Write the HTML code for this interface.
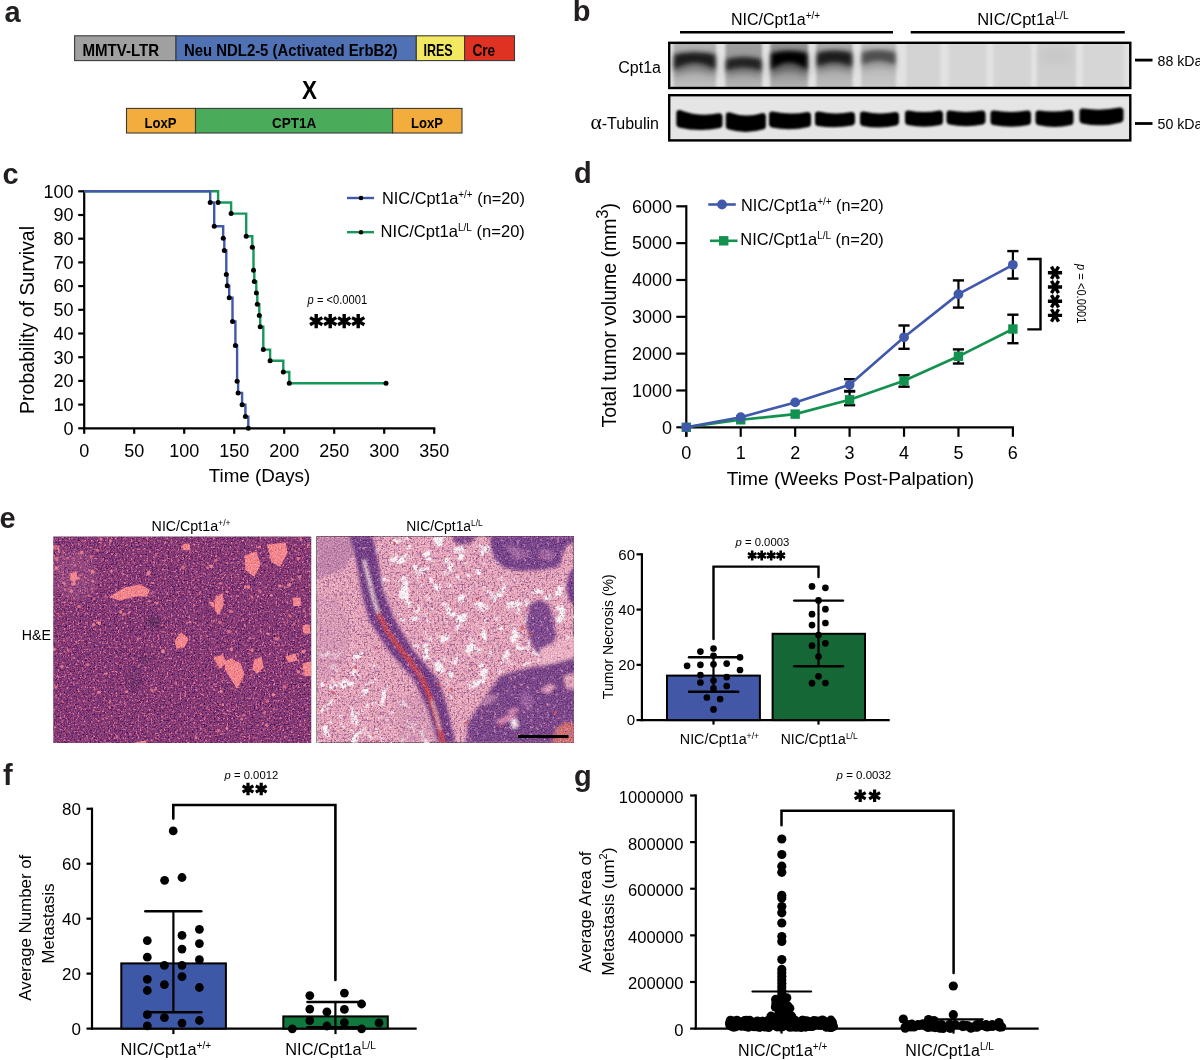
<!DOCTYPE html>
<html><head><meta charset="utf-8"><title>Figure</title>
<style>html,body{margin:0;padding:0;background:#fff;width:1200px;height:1060px;overflow:hidden}
svg{display:block;font-family:"Liberation Sans", sans-serif;will-change:transform}</style></head>
<body><svg width="1200" height="1060" viewBox="0 0 1200 1060">
<defs><filter id="blurL" x="-20%" y="-20%" width="140%" height="140%"><feGaussianBlur stdDeviation="1.6"/></filter>
<filter id="blurM" x="-20%" y="-50%" width="140%" height="200%"><feGaussianBlur stdDeviation="2"/></filter>
<filter id="blurS" x="-20%" y="-50%" width="140%" height="200%"><feGaussianBlur stdDeviation="3.5"/></filter>
<filter id="blurB" x="-20%" y="-50%" width="140%" height="200%"><feGaussianBlur stdDeviation="1.2"/></filter>
<clipPath id="cpTop"><rect x="669.2" y="43" width="461.1" height="44.5"/></clipPath>
<clipPath id="cpBot"><rect x="669.2" y="95.5" width="461.1" height="44.6"/></clipPath>
<linearGradient id="lg0" x1="0" y1="43" x2="0" y2="88" gradientUnits="userSpaceOnUse"><stop offset="0" stop-color="#b2b2b2"/><stop offset="0.21" stop-color="#aaaaaa"/><stop offset="0.63" stop-color="#acacac"/><stop offset="1" stop-color="#c0c0c0"/></linearGradient>
<linearGradient id="lg1" x1="0" y1="43" x2="0" y2="88" gradientUnits="userSpaceOnUse"><stop offset="0" stop-color="#a0a0a0"/><stop offset="0.31" stop-color="#989898"/><stop offset="0.66" stop-color="#a2a2a2"/><stop offset="1" stop-color="#b6b6b6"/></linearGradient>
<linearGradient id="lg2" x1="0" y1="43" x2="0" y2="88" gradientUnits="userSpaceOnUse"><stop offset="0" stop-color="#949494"/><stop offset="0.17" stop-color="#8c8c8c"/><stop offset="0.64" stop-color="#969696"/><stop offset="1" stop-color="#b2b2b2"/></linearGradient>
<linearGradient id="lg3" x1="0" y1="43" x2="0" y2="88" gradientUnits="userSpaceOnUse"><stop offset="0" stop-color="#aaaaaa"/><stop offset="0.17" stop-color="#a2a2a2"/><stop offset="0.57" stop-color="#aaaaaa"/><stop offset="1" stop-color="#bebebe"/></linearGradient>
<linearGradient id="lg4" x1="0" y1="43" x2="0" y2="88" gradientUnits="userSpaceOnUse"><stop offset="0" stop-color="#bcbcbc"/><stop offset="0.16" stop-color="#b4b4b4"/><stop offset="0.52" stop-color="#bababa"/><stop offset="1" stop-color="#c8c8c8"/></linearGradient>
<filter id="grain" x="0" y="0" width="1" height="1" color-interpolation-filters="sRGB"><feTurbulence type="fractalNoise" baseFrequency="0.7" numOctaves="2" seed="7" result="n"/><feColorMatrix in="n" type="matrix" values="0.33 0.33 0.33 0 0  0.33 0.33 0.33 0 0  0.33 0.33 0.33 0 0  0 0 0 0 1" result="g"/><feComposite in="SourceGraphic" in2="g" operator="arithmetic" k1="0" k2="1" k3="0.8" k4="-0.4"/></filter>
<filter id="spW" x="0" y="0" width="1" height="1" color-interpolation-filters="sRGB"><feTurbulence type="fractalNoise" baseFrequency="0.09" numOctaves="5" seed="4" result="n"/><feColorMatrix in="n" type="matrix" values="0 0 0 0 0.98  0 0 0 0 0.95  0 0 0 0 0.96  6 0 0 0 -3.3" result="m"/><feComposite in="m" in2="SourceAlpha" operator="in"/></filter>
<filter id="spW2" x="0" y="0" width="1" height="1" color-interpolation-filters="sRGB"><feTurbulence type="fractalNoise" baseFrequency="0.1" numOctaves="5" seed="9" result="n"/><feColorMatrix in="n" type="matrix" values="0 0 0 0 0.99  0 0 0 0 0.96  0 0 0 0 0.97  6 0 0 0 -3.4" result="m"/><feComposite in="m" in2="SourceAlpha" operator="in"/></filter>
<filter id="spP" x="0" y="0" width="1" height="1" color-interpolation-filters="sRGB"><feTurbulence type="fractalNoise" baseFrequency="0.5" numOctaves="2" seed="13" result="n"/><feColorMatrix in="n" type="matrix" values="0 0 0 0 0.35  0 0 0 0 0.16  0 0 0 0 0.42  7 0 0 0 -3.8" result="m"/><feComposite in="m" in2="SourceAlpha" operator="in"/></filter>
<filter id="spP2" x="0" y="0" width="1" height="1" color-interpolation-filters="sRGB"><feTurbulence type="fractalNoise" baseFrequency="0.45" numOctaves="2" seed="21" result="n"/><feColorMatrix in="n" type="matrix" values="0 0 0 0 0.35  0 0 0 0 0.18  0 0 0 0 0.48  7 0 0 0 -3.7" result="m"/><feComposite in="m" in2="SourceAlpha" operator="in"/></filter>
<filter id="spM" x="0" y="0" width="1" height="1" color-interpolation-filters="sRGB"><feTurbulence type="fractalNoise" baseFrequency="0.3" numOctaves="2" seed="31" result="n"/><feColorMatrix in="n" type="matrix" values="0 0 0 0 0.72  0 0 0 0 0.48  0 0 0 0 0.66  7 0 0 0 -4.2" result="m"/><feComposite in="m" in2="SourceAlpha" operator="in"/></filter>
<filter id="spK" x="0" y="0" width="1" height="1" color-interpolation-filters="sRGB"><feTurbulence type="fractalNoise" baseFrequency="0.45" numOctaves="2" seed="17" result="n"/><feColorMatrix in="n" type="matrix" values="0 0 0 0 0.83  0 0 0 0 0.43  0 0 0 0 0.55  8 0 0 0 -4.75" result="m"/><feComposite in="m" in2="SourceAlpha" operator="in"/></filter>
<filter id="soft" x="-20%" y="-20%" width="140%" height="140%"><feGaussianBlur stdDeviation="1.5"/></filter>
<filter id="hblur" x="0" y="0" width="1" height="1"><feGaussianBlur stdDeviation="0.55"/></filter>
<filter id="soft3" x="-30%" y="-30%" width="160%" height="160%"><feGaussianBlur stdDeviation="3"/></filter></defs>
<rect width="1200" height="1060" fill="#fff"/>
<text x="4.5" y="21.5" font-size="29" font-weight="bold" fill="#231f20" >a</text>
<text x="572.8" y="21.3" font-size="29" font-weight="bold" fill="#231f20" >b</text>
<text x="2.5" y="183.6" font-size="29" font-weight="bold" fill="#231f20" >c</text>
<text x="574" y="183.3" font-size="29" font-weight="bold" fill="#231f20" >d</text>
<text x="-0.5" y="528" font-size="29" font-weight="bold" fill="#231f20" >e</text>
<text x="3" y="784.8" font-size="29" font-weight="bold" fill="#231f20" >f</text>
<text x="574" y="785.5" font-size="29" font-weight="bold" fill="#231f20" >g</text>
<rect x="74.6" y="35.8" width="101.4" height="24.8" fill="#a0a0a0" stroke="#3a3a3a" stroke-width="1.1" />
<rect x="176" y="35.8" width="240.3" height="24.8" fill="#5071b4" stroke="#3a3a3a" stroke-width="1.1" />
<rect x="416.3" y="35.8" width="48.3" height="24.8" fill="#f2e862" stroke="#3a3a3a" stroke-width="1.1" />
<rect x="464.6" y="35.8" width="49.9" height="24.8" fill="#e03222" stroke="#3a3a3a" stroke-width="1.1" />
<text x="82.5" y="55.9" font-size="16.2" font-weight="bold" textLength="76.7" lengthAdjust="spacingAndGlyphs" >MMTV-LTR</text>
<text x="184" y="55.9" font-size="16.2" font-weight="bold" textLength="213.5" lengthAdjust="spacingAndGlyphs" >Neu NDL2-5 (Activated ErbB2)</text>
<text x="423.4" y="55.9" font-size="16.2" font-weight="bold" textLength="29.3" lengthAdjust="spacingAndGlyphs" >IRES</text>
<text x="472.4" y="55.9" font-size="16.2" font-weight="bold" textLength="22.8" lengthAdjust="spacingAndGlyphs" >Cre</text>
<text x="309.6" y="99" font-size="25" font-weight="bold" text-anchor="middle" textLength="15" lengthAdjust="spacingAndGlyphs" >X</text>
<rect x="126.5" y="108.4" width="69" height="24.6" fill="#f2ad3c" stroke="#3a3a3a" stroke-width="1.1" />
<rect x="195.5" y="108.4" width="197.1" height="24.6" fill="#4aab5a" stroke="#3a3a3a" stroke-width="1.1" />
<rect x="392.6" y="108.4" width="69.4" height="24.6" fill="#f2ad3c" stroke="#3a3a3a" stroke-width="1.1" />
<text x="144.6" y="127.9" font-size="15" font-weight="bold" textLength="32" lengthAdjust="spacingAndGlyphs" >LoxP</text>
<text x="272" y="127.9" font-size="15" font-weight="bold" textLength="44.4" lengthAdjust="spacingAndGlyphs" >CPT1A</text>
<text x="411" y="127.9" font-size="15" font-weight="bold" textLength="32" lengthAdjust="spacingAndGlyphs" >LoxP</text>
<text x="731" y="24.5" font-size="16">NIC/Cpt1a<tspan font-size="10" dy="-5.5">+/+</tspan></text>
<text x="977.2" y="24.5" font-size="16" textLength="91.5" lengthAdjust="spacingAndGlyphs">NIC/Cpt1a<tspan font-size="10" dy="-5.5">L/L</tspan></text>
<line x1="680" y1="32.2" x2="893" y2="32.2" stroke="#000" stroke-width="2.6" stroke-linecap="butt"/>
<line x1="910.7" y1="32.2" x2="1124.8" y2="32.2" stroke="#000" stroke-width="2.6" stroke-linecap="butt"/>
<text x="661" y="73.3" font-size="16" text-anchor="end" >Cpt1a</text>
<text x="659" y="129.3" font-size="16" text-anchor="end"><tspan font-family="Liberation Serif" font-size="21.5">&#945;</tspan>-Tubulin</text>
<line x1="1135" y1="60.1" x2="1152.5" y2="60.1" stroke="#000" stroke-width="2.8" stroke-linecap="butt"/>
<line x1="1135" y1="123.5" x2="1152.5" y2="123.5" stroke="#000" stroke-width="2.8" stroke-linecap="butt"/>
<text x="1157.5" y="65.7" font-size="14.2" >88 kDa</text>
<text x="1157.5" y="129.4" font-size="14.2" >50 kDa</text>
<g clip-path="url(#cpTop)">
<rect x="669.2" y="42" width="461.1" height="47" fill="#e2e2e2" />
<g filter="url(#blurL)">
<rect x="673.5" y="40" width="42.5" height="50" fill="url(#lg0)"/>
</g>
<path d="M674.5 56.3Q694.75 52.3 715 56.3L715 75.5Q694.75 64.5 674.5 75.5Z" fill="#424242" opacity="0.55" filter="url(#blurS)"/>
<path d="M674.5 54.8Q694.75 50.3 715 54.8L715 69.5Q694.75 56.2 674.5 69.5Z" fill="#1a1a1a" filter="url(#blurM)"/>
<g filter="url(#blurL)">
<rect x="725.5" y="40" width="36.5" height="50" fill="url(#lg1)"/>
</g>
<path d="M726.5 61Q743.75 57 761 61L761 76.5Q743.75 69 726.5 76.5Z" fill="#4c4c4c" opacity="0.55" filter="url(#blurS)"/>
<path d="M726.5 59.5Q743.75 55 761 59.5L761 70.5Q743.75 63.85 726.5 70.5Z" fill="#242424" filter="url(#blurM)"/>
<g filter="url(#blurL)">
<rect x="770.3" y="40" width="37.7" height="50" fill="url(#lg2)"/>
</g>
<path d="M771.3 54.8Q789.15 50.8 807 54.8L807 76Q789.15 64 771.3 76Z" fill="#2a2a2a" opacity="0.55" filter="url(#blurS)"/>
<path d="M771.3 53.3Q789.15 48.8 807 53.3L807 70Q789.15 54.8 771.3 70Z" fill="#020202" filter="url(#blurM)"/>
<g filter="url(#blurL)">
<rect x="816.3" y="40" width="36.2" height="50" fill="url(#lg3)"/>
</g>
<path d="M817.3 54.5Q834.4 50.5 851.5 54.5L851.5 72.5Q834.4 64 817.3 72.5Z" fill="#444444" opacity="0.55" filter="url(#blurS)"/>
<path d="M817.3 53Q834.4 48.5 851.5 53L851.5 66.5Q834.4 57.95 817.3 66.5Z" fill="#1c1c1c" filter="url(#blurM)"/>
<g filter="url(#blurL)">
<rect x="861.3" y="40" width="34.7" height="50" fill="url(#lg4)"/>
</g>
<path d="M862.3 54Q878.65 50 895 54L895 70.5Q878.65 62.5 862.3 70.5Z" fill="#787878" opacity="0.55" filter="url(#blurS)"/>
<path d="M862.3 52.5Q878.65 48 895 52.5L895 64.5Q878.65 56.9 862.3 64.5Z" fill="#505050" filter="url(#blurM)"/>
<rect x="906" y="40" width="34.5" height="50" fill="#d3d3d3" filter="url(#blurL)"/>
<rect x="948.5" y="40" width="38" height="50" fill="#d5d5d5" filter="url(#blurL)"/>
<rect x="993.5" y="40" width="37.5" height="50" fill="#d4d4d4" filter="url(#blurL)"/>
<rect x="1037" y="40" width="39" height="50" fill="#cfcfcf" filter="url(#blurL)"/>
<rect x="1083" y="40" width="41" height="50" fill="#d6d6d6" filter="url(#blurL)"/>
<ellipse cx="1056" cy="56" rx="16" ry="9" fill="#c8c8c8" filter="url(#blurS)"/>
</g>
<rect x="669.2" y="42.8" width="461.1" height="45.2" fill="none" stroke="#000" stroke-width="2.4" />
<g clip-path="url(#cpBot)">
<rect x="669.2" y="95" width="461.1" height="46" fill="#e5e5e5" />
<path d="M679.5 113.2Q699.4 120.75 719.3 116.5L719.3 124.8Q699.4 129.15 679.5 124.3Z" fill="#050505" stroke="#050505" stroke-width="6.4" stroke-linejoin="round" filter="url(#blurB)"/>
<path d="M729 115.5Q745.85 121.75 762.7 116.2L762.7 126.3Q745.85 131.4 729 126.3Z" fill="#050505" stroke="#050505" stroke-width="6.4" stroke-linejoin="round" filter="url(#blurB)"/>
<path d="M772.2 114.7Q790 118.65 807.8 115.2L807.8 123.8Q790 128.05 772.2 124.3Z" fill="#050505" stroke="#050505" stroke-width="6.4" stroke-linejoin="round" filter="url(#blurB)"/>
<path d="M818.2 114.7Q835 118.25 851.8 115.2L851.8 122.3Q835 125.55 818.2 122.8Z" fill="#050505" stroke="#050505" stroke-width="6.4" stroke-linejoin="round" filter="url(#blurB)"/>
<path d="M863.2 114.7Q879.5 118.25 895.8 115.2L895.8 122.3Q879.5 126.15 863.2 122.8Z" fill="#050505" stroke="#050505" stroke-width="6.4" stroke-linejoin="round" filter="url(#blurB)"/>
<path d="M908.2 113.7Q924 116.9 939.8 113.7L939.8 121.8Q924 125.3 908.2 121.8Z" fill="#050505" stroke="#050505" stroke-width="6.4" stroke-linejoin="round" filter="url(#blurB)"/>
<path d="M949.7 113.7Q966 116.5 982.3 113.7L982.3 121.3Q966 124.8 949.7 121.3Z" fill="#050505" stroke="#050505" stroke-width="6.4" stroke-linejoin="round" filter="url(#blurB)"/>
<path d="M993.7 113.7Q1010.75 116.5 1027.8 113.7L1027.8 121.8Q1010.75 125.3 993.7 121.8Z" fill="#050505" stroke="#050505" stroke-width="6.4" stroke-linejoin="round" filter="url(#blurB)"/>
<path d="M1038.7 113.7Q1054.5 116.15 1070.3 113.2L1070.3 121.8Q1054.5 125.9 1038.7 121.8Z" fill="#050505" stroke="#050505" stroke-width="6.4" stroke-linejoin="round" filter="url(#blurB)"/>
<path d="M1082.7 111.7Q1101.5 114.4 1120.3 110.7L1120.3 119.3Q1101.5 124.3 1082.7 120.3Z" fill="#050505" stroke="#050505" stroke-width="6.4" stroke-linejoin="round" filter="url(#blurB)"/>
</g>
<rect x="669.2" y="95.2" width="461.1" height="45.2" fill="none" stroke="#000" stroke-width="2.4" />
<line x1="84.2" y1="190.3" x2="84.2" y2="429.3" stroke="#000" stroke-width="2.2" stroke-linecap="butt"/>
<line x1="83.1" y1="428.3" x2="435.3" y2="428.3" stroke="#000" stroke-width="2.2" stroke-linecap="butt"/>
<line x1="78.2" y1="428.3" x2="84.2" y2="428.3" stroke="#000" stroke-width="2.2" stroke-linecap="butt"/>
<text x="73.5" y="434.6" font-size="18" text-anchor="end" >0</text>
<line x1="78.2" y1="404.6" x2="84.2" y2="404.6" stroke="#000" stroke-width="2.2" stroke-linecap="butt"/>
<text x="73.5" y="410.9" font-size="18" text-anchor="end" >10</text>
<line x1="78.2" y1="380.9" x2="84.2" y2="380.9" stroke="#000" stroke-width="2.2" stroke-linecap="butt"/>
<text x="73.5" y="387.2" font-size="18" text-anchor="end" >20</text>
<line x1="78.2" y1="357.2" x2="84.2" y2="357.2" stroke="#000" stroke-width="2.2" stroke-linecap="butt"/>
<text x="73.5" y="363.5" font-size="18" text-anchor="end" >30</text>
<line x1="78.2" y1="333.5" x2="84.2" y2="333.5" stroke="#000" stroke-width="2.2" stroke-linecap="butt"/>
<text x="73.5" y="339.8" font-size="18" text-anchor="end" >40</text>
<line x1="78.2" y1="309.8" x2="84.2" y2="309.8" stroke="#000" stroke-width="2.2" stroke-linecap="butt"/>
<text x="73.5" y="316.1" font-size="18" text-anchor="end" >50</text>
<line x1="78.2" y1="286.1" x2="84.2" y2="286.1" stroke="#000" stroke-width="2.2" stroke-linecap="butt"/>
<text x="73.5" y="292.4" font-size="18" text-anchor="end" >60</text>
<line x1="78.2" y1="262.4" x2="84.2" y2="262.4" stroke="#000" stroke-width="2.2" stroke-linecap="butt"/>
<text x="73.5" y="268.7" font-size="18" text-anchor="end" >70</text>
<line x1="78.2" y1="238.7" x2="84.2" y2="238.7" stroke="#000" stroke-width="2.2" stroke-linecap="butt"/>
<text x="73.5" y="245" font-size="18" text-anchor="end" >80</text>
<line x1="78.2" y1="215" x2="84.2" y2="215" stroke="#000" stroke-width="2.2" stroke-linecap="butt"/>
<text x="73.5" y="221.3" font-size="18" text-anchor="end" >90</text>
<line x1="78.2" y1="191.3" x2="84.2" y2="191.3" stroke="#000" stroke-width="2.2" stroke-linecap="butt"/>
<text x="73.5" y="197.6" font-size="18" text-anchor="end" >100</text>
<line x1="84.2" y1="428.3" x2="84.2" y2="433.8" stroke="#000" stroke-width="2.2" stroke-linecap="butt"/>
<text x="84.2" y="456.8" font-size="18" text-anchor="middle" >0</text>
<line x1="134.2" y1="428.3" x2="134.2" y2="433.8" stroke="#000" stroke-width="2.2" stroke-linecap="butt"/>
<text x="134.2" y="456.8" font-size="18" text-anchor="middle" >50</text>
<line x1="184.2" y1="428.3" x2="184.2" y2="433.8" stroke="#000" stroke-width="2.2" stroke-linecap="butt"/>
<text x="184.2" y="456.8" font-size="18" text-anchor="middle" >100</text>
<line x1="234.2" y1="428.3" x2="234.2" y2="433.8" stroke="#000" stroke-width="2.2" stroke-linecap="butt"/>
<text x="234.2" y="456.8" font-size="18" text-anchor="middle" >150</text>
<line x1="284.2" y1="428.3" x2="284.2" y2="433.8" stroke="#000" stroke-width="2.2" stroke-linecap="butt"/>
<text x="284.2" y="456.8" font-size="18" text-anchor="middle" >200</text>
<line x1="334.2" y1="428.3" x2="334.2" y2="433.8" stroke="#000" stroke-width="2.2" stroke-linecap="butt"/>
<text x="334.2" y="456.8" font-size="18" text-anchor="middle" >250</text>
<line x1="384.2" y1="428.3" x2="384.2" y2="433.8" stroke="#000" stroke-width="2.2" stroke-linecap="butt"/>
<text x="384.2" y="456.8" font-size="18" text-anchor="middle" >300</text>
<line x1="434.2" y1="428.3" x2="434.2" y2="433.8" stroke="#000" stroke-width="2.2" stroke-linecap="butt"/>
<text x="434.2" y="456.8" font-size="18" text-anchor="middle" >350</text>
<text x="259.5" y="482.3" font-size="18" text-anchor="middle" textLength="101.6" lengthAdjust="spacingAndGlyphs" >Time (Days)</text>
<text x="34.3" y="320" font-size="19.4" text-anchor="middle" textLength="188" lengthAdjust="spacingAndGlyphs" transform="rotate(-90 34.3 320)" >Probability of Survival</text>
<path d="M84.2 191.3H218.1V202.5H231.1V213.6H246.2V236.2H252.3V247.3H253.5V270.2H254.3V281.5H256.3V292.9H257.3V304.2H259.3V315.5H260.2V326.8H263.3V349.6H270.1V360.8H283.3V372H289.3V383.3H386" stroke="#17985a" stroke-width="2.4" fill="none"/>
<path d="M84.2 191.3H210.2V202.5H214.2V226.3H223.2V238.2H224.3V250.5H226.3V274.5H227.2V285.8H229.2V297.7H232.5V321.4H235.4V345.6H237.1V381.3H238.1V392.9H242.1V404.8H245.4V416.6H248.3V428.2" stroke="#4159a9" stroke-width="2.4" fill="none"/>
<circle cx="210.2" cy="202.5" r="2.5" fill="#000" />
<circle cx="214.2" cy="226.3" r="2.5" fill="#000" />
<circle cx="223.2" cy="238.2" r="2.5" fill="#000" />
<circle cx="224.3" cy="250.5" r="2.5" fill="#000" />
<circle cx="226.3" cy="274.5" r="2.5" fill="#000" />
<circle cx="227.2" cy="285.8" r="2.5" fill="#000" />
<circle cx="229.2" cy="297.7" r="2.5" fill="#000" />
<circle cx="232.5" cy="321.4" r="2.5" fill="#000" />
<circle cx="235.4" cy="345.6" r="2.5" fill="#000" />
<circle cx="237.1" cy="381.3" r="2.5" fill="#000" />
<circle cx="238.1" cy="392.9" r="2.5" fill="#000" />
<circle cx="242.1" cy="404.8" r="2.5" fill="#000" />
<circle cx="245.4" cy="416.6" r="2.5" fill="#000" />
<circle cx="248.3" cy="428.2" r="2.5" fill="#000" />
<circle cx="218.1" cy="202.5" r="2.5" fill="#000" />
<circle cx="231.1" cy="213.6" r="2.5" fill="#000" />
<circle cx="246.2" cy="236.2" r="2.5" fill="#000" />
<circle cx="252.3" cy="247.3" r="2.5" fill="#000" />
<circle cx="253.5" cy="270.2" r="2.5" fill="#000" />
<circle cx="254.3" cy="281.5" r="2.5" fill="#000" />
<circle cx="256.3" cy="292.9" r="2.5" fill="#000" />
<circle cx="257.3" cy="304.2" r="2.5" fill="#000" />
<circle cx="259.3" cy="315.5" r="2.5" fill="#000" />
<circle cx="260.2" cy="326.8" r="2.5" fill="#000" />
<circle cx="263.3" cy="349.6" r="2.5" fill="#000" />
<circle cx="270.1" cy="360.8" r="2.5" fill="#000" />
<circle cx="283.3" cy="372" r="2.5" fill="#000" />
<circle cx="289.3" cy="383.3" r="2.5" fill="#000" />
<circle cx="386" cy="383.3" r="2.5" fill="#000" />
<line x1="347" y1="198" x2="374" y2="198" stroke="#4159a9" stroke-width="2.4" stroke-linecap="butt"/>
<circle cx="361" cy="198" r="2.3" fill="#000" />
<text x="382" y="203.5" font-size="16.5" textLength="142.9" lengthAdjust="spacingAndGlyphs">NIC/Cpt1a<tspan font-size="10" dy="-5.8">+/+</tspan><tspan dy="5.8"> (n=20)</tspan></text>
<line x1="347" y1="232.2" x2="374" y2="232.2" stroke="#17985a" stroke-width="2.4" stroke-linecap="butt"/>
<circle cx="361" cy="232.2" r="2.3" fill="#000" />
<text x="380.6" y="236.9" font-size="16.5" textLength="144.3" lengthAdjust="spacingAndGlyphs">NIC/Cpt1a<tspan font-size="10" dy="-5.8">L/L</tspan><tspan dy="5.8"> (n=20)</tspan></text>
<text x="307.6" y="304.2" font-size="12" textLength="59.5" lengthAdjust="spacingAndGlyphs"><tspan font-style="italic">p</tspan> = &lt;0.0001</text>
<path d="M316.2 314.1L316.2 328.3M310.05 317.65L322.35 324.75M310.05 324.75L322.35 317.65" stroke="#000" stroke-width="3.4" fill="none"/>
<path d="M330.2 314.1L330.2 328.3M324.05 317.65L336.35 324.75M324.05 324.75L336.35 317.65" stroke="#000" stroke-width="3.4" fill="none"/>
<path d="M344.2 314.1L344.2 328.3M338.05 317.65L350.35 324.75M338.05 324.75L350.35 317.65" stroke="#000" stroke-width="3.4" fill="none"/>
<path d="M358.2 314.1L358.2 328.3M352.05 317.65L364.35 324.75M352.05 324.75L364.35 317.65" stroke="#000" stroke-width="3.4" fill="none"/>
<line x1="686.3" y1="205.22" x2="686.3" y2="436.8" stroke="#000" stroke-width="2.2" stroke-linecap="butt"/>
<line x1="685.2" y1="427.3" x2="1013.98" y2="427.3" stroke="#000" stroke-width="2.2" stroke-linecap="butt"/>
<line x1="676.3" y1="427.3" x2="686.3" y2="427.3" stroke="#000" stroke-width="2.2" stroke-linecap="butt"/>
<text x="672" y="433.5" font-size="18" text-anchor="end" >0</text>
<line x1="676.3" y1="390.47" x2="686.3" y2="390.47" stroke="#000" stroke-width="2.2" stroke-linecap="butt"/>
<text x="672" y="396.67" font-size="18" text-anchor="end" >1000</text>
<line x1="676.3" y1="353.64" x2="686.3" y2="353.64" stroke="#000" stroke-width="2.2" stroke-linecap="butt"/>
<text x="672" y="359.84" font-size="18" text-anchor="end" >2000</text>
<line x1="676.3" y1="316.81" x2="686.3" y2="316.81" stroke="#000" stroke-width="2.2" stroke-linecap="butt"/>
<text x="672" y="323.01" font-size="18" text-anchor="end" >3000</text>
<line x1="676.3" y1="279.98" x2="686.3" y2="279.98" stroke="#000" stroke-width="2.2" stroke-linecap="butt"/>
<text x="672" y="286.18" font-size="18" text-anchor="end" >4000</text>
<line x1="676.3" y1="243.15" x2="686.3" y2="243.15" stroke="#000" stroke-width="2.2" stroke-linecap="butt"/>
<text x="672" y="249.35" font-size="18" text-anchor="end" >5000</text>
<line x1="676.3" y1="206.32" x2="686.3" y2="206.32" stroke="#000" stroke-width="2.2" stroke-linecap="butt"/>
<text x="672" y="212.52" font-size="18" text-anchor="end" >6000</text>
<line x1="686.3" y1="427.3" x2="686.3" y2="436.8" stroke="#000" stroke-width="2.2" stroke-linecap="butt"/>
<text x="686.3" y="458.8" font-size="18" text-anchor="middle" >0</text>
<line x1="740.73" y1="427.3" x2="740.73" y2="436.8" stroke="#000" stroke-width="2.2" stroke-linecap="butt"/>
<text x="740.73" y="458.8" font-size="18" text-anchor="middle" >1</text>
<line x1="795.16" y1="427.3" x2="795.16" y2="436.8" stroke="#000" stroke-width="2.2" stroke-linecap="butt"/>
<text x="795.16" y="458.8" font-size="18" text-anchor="middle" >2</text>
<line x1="849.59" y1="427.3" x2="849.59" y2="436.8" stroke="#000" stroke-width="2.2" stroke-linecap="butt"/>
<text x="849.59" y="458.8" font-size="18" text-anchor="middle" >3</text>
<line x1="904.02" y1="427.3" x2="904.02" y2="436.8" stroke="#000" stroke-width="2.2" stroke-linecap="butt"/>
<text x="904.02" y="458.8" font-size="18" text-anchor="middle" >4</text>
<line x1="958.45" y1="427.3" x2="958.45" y2="436.8" stroke="#000" stroke-width="2.2" stroke-linecap="butt"/>
<text x="958.45" y="458.8" font-size="18" text-anchor="middle" >5</text>
<line x1="1012.88" y1="427.3" x2="1012.88" y2="436.8" stroke="#000" stroke-width="2.2" stroke-linecap="butt"/>
<text x="1012.88" y="458.8" font-size="18" text-anchor="middle" >6</text>
<text x="850.5" y="485.2" font-size="19" text-anchor="middle" textLength="247.3" lengthAdjust="spacingAndGlyphs" >Time (Weeks Post-Palpation)</text>
<text x="615.7" y="427.4" font-size="19.4" transform="rotate(-90 615.7 427.4)" textLength="224.5" lengthAdjust="spacingAndGlyphs">Total tumor volume (mm<tspan font-size="16.5" dy="-7.9">3</tspan><tspan dy="7.9">)</tspan></text>
<line x1="849.59" y1="379.2" x2="849.59" y2="391" stroke="#000" stroke-width="2.2" stroke-linecap="butt"/>
<line x1="843.99" y1="379.2" x2="855.19" y2="379.2" stroke="#000" stroke-width="2.4" stroke-linecap="butt"/>
<line x1="843.99" y1="391" x2="855.19" y2="391" stroke="#000" stroke-width="2.4" stroke-linecap="butt"/>
<line x1="904.02" y1="325.5" x2="904.02" y2="348.8" stroke="#000" stroke-width="2.2" stroke-linecap="butt"/>
<line x1="898.42" y1="325.5" x2="909.62" y2="325.5" stroke="#000" stroke-width="2.4" stroke-linecap="butt"/>
<line x1="898.42" y1="348.8" x2="909.62" y2="348.8" stroke="#000" stroke-width="2.4" stroke-linecap="butt"/>
<line x1="958.45" y1="280.4" x2="958.45" y2="307.6" stroke="#000" stroke-width="2.2" stroke-linecap="butt"/>
<line x1="952.85" y1="280.4" x2="964.05" y2="280.4" stroke="#000" stroke-width="2.4" stroke-linecap="butt"/>
<line x1="952.85" y1="307.6" x2="964.05" y2="307.6" stroke="#000" stroke-width="2.4" stroke-linecap="butt"/>
<line x1="1012.88" y1="251.1" x2="1012.88" y2="278.6" stroke="#000" stroke-width="2.2" stroke-linecap="butt"/>
<line x1="1007.28" y1="251.1" x2="1018.48" y2="251.1" stroke="#000" stroke-width="2.4" stroke-linecap="butt"/>
<line x1="1007.28" y1="278.6" x2="1018.48" y2="278.6" stroke="#000" stroke-width="2.4" stroke-linecap="butt"/>
<line x1="849.59" y1="391.5" x2="849.59" y2="405.2" stroke="#000" stroke-width="2.2" stroke-linecap="butt"/>
<line x1="843.99" y1="391.5" x2="855.19" y2="391.5" stroke="#000" stroke-width="2.4" stroke-linecap="butt"/>
<line x1="843.99" y1="405.2" x2="855.19" y2="405.2" stroke="#000" stroke-width="2.4" stroke-linecap="butt"/>
<line x1="904.02" y1="375.2" x2="904.02" y2="386.7" stroke="#000" stroke-width="2.2" stroke-linecap="butt"/>
<line x1="898.42" y1="375.2" x2="909.62" y2="375.2" stroke="#000" stroke-width="2.4" stroke-linecap="butt"/>
<line x1="898.42" y1="386.7" x2="909.62" y2="386.7" stroke="#000" stroke-width="2.4" stroke-linecap="butt"/>
<line x1="958.45" y1="349.4" x2="958.45" y2="363.5" stroke="#000" stroke-width="2.2" stroke-linecap="butt"/>
<line x1="952.85" y1="349.4" x2="964.05" y2="349.4" stroke="#000" stroke-width="2.4" stroke-linecap="butt"/>
<line x1="952.85" y1="363.5" x2="964.05" y2="363.5" stroke="#000" stroke-width="2.4" stroke-linecap="butt"/>
<line x1="1012.88" y1="314.7" x2="1012.88" y2="343.2" stroke="#000" stroke-width="2.2" stroke-linecap="butt"/>
<line x1="1007.28" y1="314.7" x2="1018.48" y2="314.7" stroke="#000" stroke-width="2.4" stroke-linecap="butt"/>
<line x1="1007.28" y1="343.2" x2="1018.48" y2="343.2" stroke="#000" stroke-width="2.4" stroke-linecap="butt"/>
<polyline points="686.3,427.3 740.73,419.8 795.16,414.1 849.59,399.8 904.02,380.8 958.45,356.3 1012.88,329" stroke="#12914f" stroke-width="2.6" fill="none"/>
<rect x="681.6" y="422.6" width="9.4" height="9.4" fill="#12914f" />
<rect x="736.03" y="415.1" width="9.4" height="9.4" fill="#12914f" />
<rect x="790.46" y="409.4" width="9.4" height="9.4" fill="#12914f" />
<rect x="844.89" y="395.1" width="9.4" height="9.4" fill="#12914f" />
<rect x="899.32" y="376.1" width="9.4" height="9.4" fill="#12914f" />
<rect x="953.75" y="351.6" width="9.4" height="9.4" fill="#12914f" />
<rect x="1008.18" y="324.3" width="9.4" height="9.4" fill="#12914f" />
<polyline points="686.3,427.3 740.73,417.2 795.16,402.4 849.59,384.8 904.02,337.3 958.45,294.2 1012.88,264.8" stroke="#4159aa" stroke-width="2.6" fill="none"/>
<circle cx="686.3" cy="427.3" r="4.9" fill="#4159aa" />
<circle cx="740.73" cy="417.2" r="4.9" fill="#4159aa" />
<circle cx="795.16" cy="402.4" r="4.9" fill="#4159aa" />
<circle cx="849.59" cy="384.8" r="4.9" fill="#4159aa" />
<circle cx="904.02" cy="337.3" r="4.9" fill="#4159aa" />
<circle cx="958.45" cy="294.2" r="4.9" fill="#4159aa" />
<circle cx="1012.88" cy="264.8" r="4.9" fill="#4159aa" />
<line x1="708.3" y1="204.5" x2="735.8" y2="204.5" stroke="#4159aa" stroke-width="2.6" stroke-linecap="butt"/>
<circle cx="722" cy="204.5" r="4.9" fill="#4159aa" />
<text x="741" y="210.8" font-size="16.5" textLength="142.6" lengthAdjust="spacingAndGlyphs">NIC/Cpt1a<tspan font-size="10" dy="-5.8">+/+</tspan><tspan dy="5.8"> (n=20)</tspan></text>
<line x1="710" y1="240.8" x2="737.5" y2="240.8" stroke="#12914f" stroke-width="2.6" stroke-linecap="butt"/>
<rect x="719" y="236.1" width="9.4" height="9.4" fill="#12914f" />
<text x="740.3" y="245.2" font-size="16.5" textLength="143.4" lengthAdjust="spacingAndGlyphs">NIC/Cpt1a<tspan font-size="10" dy="-5.8">L/L</tspan><tspan dy="5.8"> (n=20)</tspan></text>
<path d="M1027.3 259H1040.5V329.4H1027.3" stroke="#000" stroke-width="2.4" fill="none"/>
<path d="M1062.1 272.8L1047.9 272.8M1058.55 266.65L1051.45 278.95M1051.45 266.65L1058.55 278.95" stroke="#000" stroke-width="3.4" fill="none"/>
<path d="M1062.1 287L1047.9 287M1058.55 280.85L1051.45 293.15M1051.45 280.85L1058.55 293.15" stroke="#000" stroke-width="3.4" fill="none"/>
<path d="M1062.1 301.2L1047.9 301.2M1058.55 295.05L1051.45 307.35M1051.45 295.05L1058.55 307.35" stroke="#000" stroke-width="3.4" fill="none"/>
<path d="M1062.1 315.4L1047.9 315.4M1058.55 309.25L1051.45 321.55M1051.45 309.25L1058.55 321.55" stroke="#000" stroke-width="3.4" fill="none"/>
<text x="1077.3" y="264" font-size="12" transform="rotate(90 1077.3 264)" textLength="59.5" lengthAdjust="spacingAndGlyphs"><tspan font-style="italic">p</tspan> = &lt;0.0001</text>
<text x="0" y="0" font-size="1" ></text>
<text x="151.6" y="530.5" font-size="14" textLength="79" lengthAdjust="spacingAndGlyphs">NIC/Cpt1a<tspan font-size="8.5" dy="-4.8">+/+</tspan></text>
<text x="406.3" y="530.5" font-size="14" textLength="76.5" lengthAdjust="spacingAndGlyphs">NIC/Cpt1a<tspan font-size="8.5" dy="-4.8">L/L</tspan></text>
<text x="21.7" y="640.3" font-size="14.2" >H&amp;E</text>
<clipPath id="cpL"><rect x="53.3" y="536.6" width="258" height="206.4"/></clipPath>
<g clip-path="url(#cpL)"><g filter="url(#hblur)"><g filter="url(#grain)">
<rect x="53.3" y="536.6" width="258" height="206.4" fill="#873b76"/>
<rect x="53.3" y="536.6" width="258" height="206.4" fill="#000" filter="url(#spP)"/>
<rect x="53.3" y="536.6" width="258" height="206.4" fill="#000" filter="url(#spK)"/>
<g filter="url(#soft3)">
<ellipse cx="75" cy="575" rx="22" ry="25" fill="#b0608e" opacity="0.35"/>
<ellipse cx="153" cy="622" rx="7" ry="6" fill="#40244f" opacity="0.6"/>
<ellipse cx="134" cy="680" rx="8" ry="12" fill="#50295e" opacity="0.35"/>
<ellipse cx="145" cy="660" rx="9" ry="6" fill="#50295e" opacity="0.3"/>
</g>
<polygon points="268,545 285,543 287,552 280,566 272,562" fill="#f4868e" stroke="#f4868e" stroke-width="1.2" stroke-linejoin="round"/>
<polygon points="245,556 256,552 260,565 254,576 246,570" fill="#f4868e" stroke="#f4868e" stroke-width="1.2" stroke-linejoin="round"/>
<polygon points="110,597 125,588 140,585 149,590 147,596 135,596 120,600" fill="#f4868e" stroke="#f4868e" stroke-width="1.2" stroke-linejoin="round"/>
<polygon points="216,598 222,594 223,604 219,614 215,610" fill="#f4868e" stroke="#f4868e" stroke-width="1.2" stroke-linejoin="round"/>
<polygon points="175,641 181,633 188,639 184,647 177,648" fill="#f4868e" stroke="#f4868e" stroke-width="1.2" stroke-linejoin="round"/>
<polygon points="225,662 231,659 240,664 244,674 237,688 232,680 226,670" fill="#f4868e" stroke="#f4868e" stroke-width="1.2" stroke-linejoin="round"/>
<polygon points="214,658 222,655 226,662 220,668" fill="#f4868e" stroke="#f4868e" stroke-width="1.2" stroke-linejoin="round"/>
<polygon points="255,660 261,657 263,667 257,673 253,668" fill="#f4868e" stroke="#f4868e" stroke-width="1.2" stroke-linejoin="round"/>
<polygon points="286,657 295,654 297,660 289,662" fill="#f4868e" stroke="#f4868e" stroke-width="1.2" stroke-linejoin="round"/>
<polygon points="303,626 309,625 310,633 304,633" fill="#f4868e" stroke="#f4868e" stroke-width="1.2" stroke-linejoin="round"/>
<polygon points="293,598 300,598 300,605 294,606" fill="#f4868e" stroke="#f4868e" stroke-width="1.2" stroke-linejoin="round"/>
<polygon points="183,545 189,544 190,549 184,550" fill="#f4868e" stroke="#f4868e" stroke-width="1.2" stroke-linejoin="round"/>
<polygon points="70,574 76,572 77,579 71,580" fill="#f4868e" stroke="#f4868e" stroke-width="1.2" stroke-linejoin="round"/>
<polygon points="303,664 310,662 311,675 305,676" fill="#f4868e" stroke="#f4868e" stroke-width="1.2" stroke-linejoin="round"/>
<polygon points="136,743 145,741 146,745" fill="#f4868e" stroke="#f4868e" stroke-width="1.2" stroke-linejoin="round"/>
<polygon points="209,602 214,603 213,607" fill="#f4868e" stroke="#f4868e" stroke-width="1.2" stroke-linejoin="round"/>
<polygon points="97,622 100,622 100,625" fill="#f4868e" stroke="#f4868e" stroke-width="1.2" stroke-linejoin="round"/>
</g>
<polygon points="76.39,580.12 74.35,582.16 72.99,581.66 70.86,580.12 72.78,578.58 75.13,578.29" fill="#f08c96" opacity="0.9"/>
<polygon points="91.91,550.45 91.06,550.92 90.5,550.79 89.83,550.31 90.56,549.88 91.34,549.84" fill="#ea8494" opacity="0.9"/>
<polygon points="80.1,552.96 79.24,553.71 77.92,554.24 77.5,553.4 78.21,552.59 79.57,552.4" fill="#dc7084" opacity="0.9"/>
<polygon points="65.42,552.48 65.16,553.35 63.99,553.18 63.58,552.83 64.1,551.75 64.7,551.69" fill="#f08c96" opacity="0.9"/>
<polygon points="83.51,552.57 82.82,554.02 81.35,554.25 79.77,552.77 80.91,550.7 83.25,550.75" fill="#ea8494" opacity="0.9"/>
<polygon points="66.08,583.52 64.19,585.59 63,584.04 62.16,582.8 62.12,581.38 64.11,581.89" fill="#ea8494" opacity="0.9"/>
<polygon points="58.58,560.07 57.37,561.15 56.08,561.34 55.24,560.26 55.74,558.04 57.45,559.21" fill="#e27a8c" opacity="0.9"/>
<polygon points="56.12,548.03 56.15,549.52 53.87,548.59 52.12,547.25 53.86,544.9 55.9,545.15" fill="#dc7084" opacity="0.9"/>
<polygon points="94.64,571.71 93.47,573.03 90.94,574.18 90.74,571.37 91.65,569.78 93.13,570.02" fill="#f08c96" opacity="0.9"/>
<polygon points="81.69,575.45 80.82,575.95 79.81,576.05 79.02,575.15 80.06,574.42 80.75,574.26" fill="#e27a8c" opacity="0.9"/>
<polygon points="95.43,599.26 94.69,600.04 93.14,600.35 92.53,599.45 93.63,598.17 95.54,597.96" fill="#dc7084" opacity="0.9"/>
<polygon points="68.77,596.42 68.28,597.58 67.28,597.26 66.15,596.57 67.51,595.67 68.46,595.24" fill="#e27a8c" opacity="0.9"/>
<polygon points="57.99,558.27 57.38,559.62 55.84,560.5 54.41,558.33 55.9,556.63 58.47,557.21" fill="#dc7084" opacity="0.9"/>
<polygon points="76.07,584.2 74.31,585.63 72.68,585.24 70.93,583.75 72.51,583.02 74.87,581.01" fill="#f08c96" opacity="0.9"/>
<polygon points="65.88,589.49 65.86,590.51 64.48,590.17 64,589.67 64.4,588.39 65.64,588.84" fill="#e27a8c" opacity="0.9"/>
<polygon points="94.8,581.26 93.52,582.46 91.88,582.42 90.62,580.7 92.13,580.33 93.58,579.82" fill="#ea8494" opacity="0.9"/>
<polygon points="59.74,546.91 59.1,548.19 58.06,548.17 56.62,546.47 57.94,546.12 59.67,545.57" fill="#e27a8c" opacity="0.9"/>
<polygon points="69.64,557.76 68.45,559.15 66.96,559.49 65.58,558.45 66.89,557.13 68.42,556.84" fill="#dc7084" opacity="0.9"/>
<polygon points="73.04,578.56 72.65,579.26 71.45,579.82 71.07,578.44 71.66,577.47 72.16,577.54" fill="#ea8494" opacity="0.9"/>
<polygon points="60.57,552.18 60.16,552.89 59.01,552.98 57.35,551.52 58.41,550.46 59.9,551.26" fill="#f08c96" opacity="0.9"/>
<polygon points="59.27,548.64 58.8,551.38 57.78,550.04 56.09,548.89 57.22,547.55 58.63,547.98" fill="#f08c96" opacity="0.9"/>
<polygon points="92.43,557.43 91.75,558.39 90.15,559 89.9,557.37 90.24,555.46 92.04,555.47" fill="#dc7084" opacity="0.9"/>
<polygon points="89.95,595.89 88.79,596.81 87.98,596.62 87.08,595.86 87.82,594.28 89.04,594.43" fill="#dc7084" opacity="0.9"/>
<polygon points="80.59,578.74 79.14,579.44 78.22,579.4 77.89,578.84 78.14,577.64 79.69,577.14" fill="#f08c96" opacity="0.9"/>
<polygon points="80.85,606.38 80.18,608.07 77.23,607.82 77.21,606.22 77.88,605.21 79.75,605.07" fill="#e27a8c" opacity="0.9"/>
<polygon points="305.12,673.25 305.21,675.09 302.11,674.76 301.22,673.02 303.19,671.96 304.77,672.57" fill="#e27a8c" opacity="0.9"/>
<polygon points="305.58,685.84 305.13,686.49 303.98,686.61 303.06,685.65 303.87,684.39 305.63,683.61" fill="#ea8494" opacity="0.9"/>
<polygon points="283.77,585.98 283.36,586.76 281.95,586.88 281.76,586 282.22,584.84 282.83,585.04" fill="#dc7084" opacity="0.9"/>
<polygon points="272.77,558.01 272.05,559.4 270.02,558.96 268.56,558.26 269.54,555.8 271.6,556.46" fill="#e27a8c" opacity="0.9"/>
<polygon points="246.78,567.51 246.26,568.65 244.97,568.52 244.25,567.75 244.7,566.85 246.03,566.32" fill="#dc7084" opacity="0.9"/>
<polygon points="279.72,638.56 279.02,639.92 277.15,640.59 275.9,638.11 277.83,637.41 279.53,636.06" fill="#dc7084" opacity="0.9"/>
<polygon points="231.6,611.43 230.58,612.29 229.65,612.38 228.81,611.62 229.76,610.51 230.48,610.47" fill="#dc7084" opacity="0.9"/>
<polygon points="295.3,624 295.03,625.39 293.52,624.91 292.88,623.76 293.59,622.13 294.85,622.31" fill="#dc7084" opacity="0.9"/>
<polygon points="278.07,638.74 276.51,640.45 274.58,640.28 274.18,638.02 275.14,636.8 276.45,637.39" fill="#e27a8c" opacity="0.9"/>
<polygon points="311.5,614.04 310.65,615.25 310,614.99 308.99,613.87 309.61,613.06 310.67,613.16" fill="#ea8494" opacity="0.9"/>
<polygon points="269.38,633.81 268.59,635.22 267.08,634.98 266.04,633.58 267.07,632.21 268.45,632.9" fill="#f08c96" opacity="0.9"/>
<polygon points="290.87,616.27 290.45,618.38 289.25,617.08 288.39,615.7 288.42,614.31 290.43,614.21" fill="#dc7084" opacity="0.9"/>
<polygon points="261.03,546.83 259.38,548.4 258.34,548.36 256.74,547.57 258.6,546.07 260.04,546.05" fill="#ea8494" opacity="0.9"/>
<polygon points="294.57,579.25 293.18,580.35 291.62,581.09 291.44,579.5 291.38,577.48 293.11,578.9" fill="#f08c96" opacity="0.9"/>
<polygon points="282.09,586 280.82,587.19 278.71,587.6 278.06,585.09 279.12,584.83 280.38,584.49" fill="#f08c96" opacity="0.9"/>
<polygon points="255.07,668.57 254.75,670.03 253.18,670.47 252.91,668.99 253.09,668.01 255.03,667.8" fill="#f08c96" opacity="0.9"/>
<polygon points="275.87,694.85 274.02,696.61 272.19,696.32 271.6,694.86 272.07,693.39 273.79,693.51" fill="#f08c96" opacity="0.9"/>
<polygon points="215.49,683.88 215.38,685.15 213.64,685.27 212.71,684.16 213.85,683.33 215.17,682.79" fill="#dc7084" opacity="0.9"/>
<polygon points="305.45,611.11 304.37,612.18 302.86,612.01 302.36,610.91 303.4,610.23 304.43,609.68" fill="#e27a8c" opacity="0.9"/>
<polygon points="222.62,659.46 221.79,661.78 219.83,661.64 218.76,659.84 219.97,658.81 222.13,658.47" fill="#f08c96" opacity="0.9"/>
<polygon points="261.41,590.45 259.96,592.38 259.03,592.62 257.74,590.63 258.11,589.4 260.77,589.48" fill="#dc7084" opacity="0.9"/>
<polygon points="218,560.29 216.78,561.43 214.22,562.09 214.19,559.99 214.93,559.28 216.96,559.03" fill="#dc7084" opacity="0.9"/>
<polygon points="280.02,645.39 278.68,646.83 277.8,646.35 276.99,645.46 277.8,644.65 278.83,643.69" fill="#dc7084" opacity="0.9"/>
<polygon points="253.44,597.57 252.81,599.14 251.6,598.43 250.71,597.36 251.57,595.37 252.77,596.02" fill="#e27a8c" opacity="0.9"/>
<polygon points="301.34,577.25 300.98,578.82 299.17,580 298.47,576.78 299.75,575.5 301.34,575.45" fill="#dc7084" opacity="0.9"/>
<polygon points="288.71,622.04 287.86,623.19 286.88,623.56 286.3,622.61 287.18,621.63 287.81,621.14" fill="#dc7084" opacity="0.9"/>
<polygon points="212.58,725.59 212.12,726.61 210.98,726.32 210.91,725.81 210.63,724.89 212.3,725.36" fill="#e27a8c" opacity="0.9"/>
<polygon points="300.58,548.95 300.36,550.06 298.71,549.83 298.36,548.98 298.98,548.08 300.02,547.86" fill="#dc7084" opacity="0.9"/>
<polygon points="232.87,648.65 232.73,650.47 230.45,650.94 229.34,648.52 230.96,648.01 232.08,646.8" fill="#f08c96" opacity="0.9"/>
<polygon points="282.11,665 281.69,665.93 280.96,666.18 280.59,665.34 280.91,664.38 281.7,664.6" fill="#f08c96" opacity="0.9"/>
<polygon points="309.59,544.95 309,546.27 307.69,546.44 307.1,545.33 307.69,543.33 308.56,544.15" fill="#ea8494" opacity="0.9"/>
<polygon points="232.29,631.48 230.39,633.05 227.54,633.57 226.69,631.07 227.59,629.44 230.06,630.56" fill="#dc7084" opacity="0.9"/>
<polygon points="250.29,587.45 249.18,589.16 247.68,588.6 246.67,587.44 246.87,585.35 249.68,585.56" fill="#ea8494" opacity="0.9"/>
<polygon points="265.44,670.56 265.41,671.93 264.06,671.1 263.78,670.71 263.71,669.51 264.86,669.77" fill="#e27a8c" opacity="0.9"/>
<polygon points="209.26,567.48 208.39,569.28 207.06,569.07 205.61,567.27 207.08,566.76 208.2,566.82" fill="#e27a8c" opacity="0.9"/>
<polygon points="213.55,565.68 212.4,567.69 210.21,567.82 208.49,564.98 210.44,564.44 211.59,564.52" fill="#f08c96" opacity="0.9"/>
<polygon points="138.92,639.47 138.84,640.39 136.91,640.68 136.94,639.22 136.95,637.61 138.47,637.31" fill="#ea8494" opacity="0.9"/>
<polygon points="125.21,614.42 124.76,615.85 122.61,615.88 121.54,614.82 123.03,612.73 125.23,612.69" fill="#dc7084" opacity="0.9"/>
<polygon points="214.84,621.08 213.79,622.84 212.76,622.33 212.58,621.44 212.75,620.67 214.48,619.41" fill="#dc7084" opacity="0.9"/>
<polygon points="56.32,649.68 54.62,650.99 53.02,650.83 51.89,649.18 53.73,648.1 55.26,647.87" fill="#e27a8c" opacity="0.9"/>
<polygon points="128.44,691.32 127.53,693.3 125.53,692.78 124.95,691.41 126.6,690.25 127.74,689.95" fill="#ea8494" opacity="0.9"/>
<polygon points="157.27,689.42 156.75,690.6 154.29,690.92 153.7,689.33 155.1,687.59 156.73,687.7" fill="#dc7084" opacity="0.9"/>
<polygon points="102.3,539.27 101.57,540.88 100.57,540.82 99.7,539.19 99.93,537.77 102.42,537.69" fill="#ea8494" opacity="0.9"/>
<polygon points="99.21,550.24 98.54,551.72 97.05,551.82 95.58,550.57 96.93,548.79 98.08,548.95" fill="#dc7084" opacity="0.9"/>
<polygon points="201.46,592.9 200.63,593.63 199.22,593.76 198.66,593.43 198.85,591.76 200.88,591.67" fill="#dc7084" opacity="0.9"/>
<polygon points="70.56,649.87 68.55,652.08 67.37,650.97 66.97,650.41 66.95,648.73 68.72,649.49" fill="#dc7084" opacity="0.9"/>
<polygon points="302.68,539.18 301.47,540.95 300,539.75 298.92,538.97 300.52,537.94 301.31,537.67" fill="#ea8494" opacity="0.9"/>
<polygon points="223.94,703.82 223.35,704.6 222.13,704.84 221.2,703.91 222.11,703.31 223.19,703.23" fill="#f08c96" opacity="0.9"/>
<polygon points="158.51,602.71 158.15,604.28 156.3,604.78 155.26,602.56 156.33,601.74 158.72,601.56" fill="#ea8494" opacity="0.9"/>
<polygon points="57.82,686.93 56.5,689.1 55.25,688.47 54.2,687.11 55.03,686.21 56.94,685.81" fill="#e27a8c" opacity="0.9"/>
<polygon points="63.64,666.17 62.7,668.01 60.89,668.04 59.66,666.17 61.27,664.89 62.73,664.61" fill="#e27a8c" opacity="0.9"/>
<polygon points="269.25,700.68 268.49,702.68 266.19,702.64 265.5,701.41 266.33,699.61 267.97,699.16" fill="#dc7084" opacity="0.9"/>
<polygon points="253.69,650.22 252.92,652.22 251.41,651.79 249.85,650.6 251.46,648.74 253.09,648.17" fill="#ea8494" opacity="0.9"/>
<polygon points="305.45,651.7 304.39,653.82 302.63,653.18 301.47,651.99 301.55,649.98 304.31,650.37" fill="#f08c96" opacity="0.9"/>
<polygon points="232.79,688.69 232.52,689.55 231.37,689.25 230.38,688.87 231.26,687.93 233.04,687.53" fill="#dc7084" opacity="0.9"/>
<polygon points="222.23,583.4 221.59,584.03 219.58,584.75 218.83,583 219.98,582.13 221.1,582" fill="#ea8494" opacity="0.9"/>
<polygon points="266.28,712.06 265.75,712.81 263.58,714.19 263.12,711.76 264.12,711.26 265.92,710.89" fill="#e27a8c" opacity="0.9"/>
<polygon points="112.78,541.38 110.92,542.08 109.66,542.52 109.21,540.55 109.44,539.52 111.02,539.53" fill="#f08c96" opacity="0.9"/>
<polygon points="214.89,689.89 215.21,691.06 213.5,690.24 212.75,689.73 213.67,688.81 214.42,688.79" fill="#f08c96" opacity="0.9"/>
<polygon points="77.3,642.18 76.9,643.26 75.29,643.43 75.18,642.09 75.51,641.26 77.31,641.12" fill="#ea8494" opacity="0.9"/>
<polygon points="58.05,568.04 57.21,569.76 54.61,569.84 54.76,568.39 54.24,566.66 57.17,566.11" fill="#f08c96" opacity="0.9"/>
<polygon points="298.8,653.73 298.35,654.83 296.8,654.93 296.49,653.85 296.34,652.71 298.03,653" fill="#e27a8c" opacity="0.9"/>
<polygon points="150.84,601.52 150.2,602.53 148.44,602.4 147.53,600.94 148.05,600.44 149.61,600.4" fill="#ea8494" opacity="0.9"/>
<polygon points="143.83,713.54 142.68,713.89 141.92,714.09 141.49,713.32 141.56,712.61 143.1,712.51" fill="#dc7084" opacity="0.9"/>
<polygon points="76.48,565.28 75.74,566.61 74.3,566.77 73.93,565.04 74.53,564.23 75.92,563.92" fill="#e27a8c" opacity="0.9"/>
<polygon points="286.87,686.95 285.96,688.26 283.37,688.64 282.74,686.91 283.02,685 285.25,685.16" fill="#dc7084" opacity="0.9"/>
<polygon points="228.83,728.18 227.87,729.74 226.83,730.15 225.34,728.32 226.41,726.84 227.99,727.26" fill="#f08c96" opacity="0.9"/>
<polygon points="157,555.17 156.08,556.81 155.12,556.55 154.44,555.53 154.87,554.32 156.12,553.58" fill="#dc7084" opacity="0.9"/>
<polygon points="184.76,567.7 184.48,570.04 181.49,568.85 180.81,567.89 181.78,566.13 184.05,564.76" fill="#dc7084" opacity="0.9"/>
<polygon points="233.86,611.95 232.44,612.82 229.45,613.24 229.39,611.69 229.21,609.57 231.74,609.66" fill="#dc7084" opacity="0.9"/>
<polygon points="194.94,563.65 194.06,564.19 193.11,564.33 192.77,563.76 193.23,562.37 194.25,562.99" fill="#ea8494" opacity="0.9"/>
<polygon points="299.64,559.18 298.76,560.74 297.73,560.97 296.86,559.22 296.46,556.86 300.44,557.43" fill="#e27a8c" opacity="0.9"/>
<polygon points="167.38,676.95 166.49,677.26 165.61,677.44 165.32,676.65 165.49,676.31 166.32,675.68" fill="#dc7084" opacity="0.9"/>
<polygon points="95.92,625.35 93.69,626.12 92.33,626.13 91.63,625.19 92.8,623.5 93.92,622.62" fill="#f08c96" opacity="0.9"/>
<polygon points="252.34,674.67 251.4,675.85 250.84,675.68 250.01,675.21 250.41,674.17 251.58,674.07" fill="#dc7084" opacity="0.9"/>
<polygon points="93.73,588.57 92.73,590.35 91.68,589.84 90.15,588.9 91.11,588.27 92.91,587.76" fill="#dc7084" opacity="0.9"/>
<polygon points="65.59,651.38 65.12,652.63 64.34,652.75 63.76,651.26 63.81,650.34 65.06,650.81" fill="#dc7084" opacity="0.9"/>
<polygon points="164.27,569.68 163.7,570.17 162.08,570.19 161.78,569.6 162.39,568.13 163.21,568.79" fill="#ea8494" opacity="0.9"/>
<polygon points="296.33,551.46 295.96,552.2 294.8,552.31 294.76,551.5 294.4,550.11 296.47,550.64" fill="#dc7084" opacity="0.9"/>
<polygon points="303.75,668.56 302.91,669.46 301.83,669.94 301.07,668.65 301.76,667.9 302.81,667.87" fill="#f08c96" opacity="0.9"/>
<polygon points="111.16,701.53 110.58,702.2 109.2,702.64 108.66,701.46 109.51,700.09 110.78,700.42" fill="#e27a8c" opacity="0.9"/>
<polygon points="291.28,584.71 290.07,587.07 287.99,586.52 286.67,584.99 287.5,583.68 290.69,582.63" fill="#ea8494" opacity="0.9"/>
<polygon points="231.79,673.46 231.19,674.36 229.05,674.77 229.23,673.43 229.03,671.83 230.89,671.69" fill="#f08c96" opacity="0.9"/>
<polygon points="164.76,651.47 164.14,653.47 161.83,653.06 160.83,651.41 161.66,649.52 164.36,649.22" fill="#f08c96" opacity="0.9"/>
<polygon points="177.09,684.32 176.5,684.96 175.13,685.11 175.25,684.18 175.59,683.39 176.53,683.4" fill="#e27a8c" opacity="0.9"/>
<polygon points="222.87,691.73 221.3,693.33 219.73,692.52 219.65,691.29 220.27,689.86 222.06,689.68" fill="#f08c96" opacity="0.9"/>
<polygon points="136.4,593.07 135.23,594.19 133.91,593.98 133.82,592.78 134.26,592.2 135.63,592.09" fill="#dc7084" opacity="0.9"/>
<polygon points="246.41,588.04 246.15,588.86 244.47,588.99 244.48,588.2 245.2,587.43 246.26,587.03" fill="#dc7084" opacity="0.9"/>
<polygon points="220.68,730.35 219.8,731.61 217.85,731.81 216.52,729.83 217.12,728.8 219.06,728.73" fill="#dc7084" opacity="0.9"/>
<polygon points="299.63,576.63 299.6,578.36 298.11,577.71 297.91,576.4 298.43,575.92 299.36,575.5" fill="#e27a8c" opacity="0.9"/>
<polygon points="153.62,689.68 152.72,692.71 151.23,690.9 149.99,689.52 151.25,688.16 152.46,688.94" fill="#e27a8c" opacity="0.9"/>
<polygon points="108.02,673.25 107.59,674.46 105.96,674.64 105.15,673.52 106.34,672.32 107.33,672.55" fill="#f08c96" opacity="0.9"/>
<polygon points="299.82,671.69 299.68,673.41 297.47,673.5 296.67,672.07 297.04,670.32 299.88,670.57" fill="#f08c96" opacity="0.9"/>
<polygon points="183.44,546.8 182.45,548.07 181.31,548.41 181.1,547.42 181.14,545.97 182.16,546.02" fill="#f08c96" opacity="0.9"/>
<polygon points="300.98,604.29 300.05,605.37 298.19,606.38 296.33,603.99 298.73,603 300.69,601.91" fill="#f08c96" opacity="0.9"/>
<polygon points="152.66,593.1 151.91,594.68 150.8,593.7 149.89,592.81 150.83,592.61 152.24,591.96" fill="#e27a8c" opacity="0.9"/>
<polygon points="140.42,665.39 139.21,666.47 137.65,666.65 137.57,665.28 138.17,664.47 139.16,664.43" fill="#dc7084" opacity="0.9"/>
<polygon points="268.79,725.5 267.38,727.15 266.27,726.48 264.54,725.28 266.1,723.27 267.2,724.03" fill="#ea8494" opacity="0.9"/>
<polygon points="250.87,637.92 250.29,639.04 248.72,639.43 248.48,638.15 248.99,637.16 250.32,637.27" fill="#f08c96" opacity="0.9"/>
<polygon points="134.22,658.62 134.24,659.94 132.31,659.86 132.38,658.65 132.8,658.01 134.35,657.14" fill="#e27a8c" opacity="0.9"/>
<polygon points="272.86,594.97 271.9,596.31 270.31,596.6 270.06,595.26 270.5,593.62 272.47,594.55" fill="#f08c96" opacity="0.9"/>
<polygon points="118.31,736.69 117.42,738.24 115.64,738.59 115.46,736.74 116.51,735.38 117.49,735.66" fill="#dc7084" opacity="0.9"/>
<polygon points="247.36,586.82 245.86,587.77 244.11,588.28 244.09,586.76 244.95,584.78 245.79,585.38" fill="#f08c96" opacity="0.9"/>
<polygon points="112.53,571.05 111.48,572.51 109.86,572.24 110.1,570.84 110.32,569.38 112.09,569.76" fill="#ea8494" opacity="0.9"/>
<polygon points="221.88,622.07 220.91,623.17 219.92,623.88 218,622.03 219.75,620.8 221.01,621.4" fill="#e27a8c" opacity="0.9"/>
<polygon points="153.46,646.1 153.14,647.33 151.97,646.63 151.29,646.08 151.87,645.59 153.1,645.3" fill="#e27a8c" opacity="0.9"/>
<polygon points="154.04,583.4 153.59,584.14 151.96,583.75 150.94,582.9 150.89,581.78 152.9,582.62" fill="#f08c96" opacity="0.9"/>
<polygon points="128.32,575.82 127.69,577.16 126.7,576.89 126.4,576.34 126.3,574.94 127.87,574.7" fill="#ea8494" opacity="0.9"/>
<polygon points="130.12,595.49 128.97,597.2 127.47,597.1 126,595.21 126.98,594.23 128.81,594.49" fill="#ea8494" opacity="0.9"/>
<polygon points="246.04,715.86 244.59,716.19 243.82,716.23 242.86,715.66 243.45,714.35 245.19,713.43" fill="#dc7084" opacity="0.9"/>
<polygon points="122.51,612.09 122,613.53 119.84,613.71 119.21,612.09 119.73,609.79 121.61,610.49" fill="#ea8494" opacity="0.9"/>
<polygon points="228.71,591.75 227.22,593.14 225.84,592.83 225.73,592.14 225.46,590.49 228.08,590.61" fill="#ea8494" opacity="0.9"/>
<polygon points="80.25,544.18 79.27,544.86 78.4,544.81 77.71,544.17 77.56,542.64 79.12,542.99" fill="#dc7084" opacity="0.9"/>
<polygon points="243.09,719.54 242.48,720.68 240.78,719.87 239.5,719.3 240.74,718.36 242.3,717.18" fill="#ea8494" opacity="0.9"/>
<polygon points="259.19,596.76 258.53,597.6 256.92,597.87 256.83,596.53 257.1,595.74 258.84,595.06" fill="#f08c96" opacity="0.9"/>
<polygon points="130.66,612.66 130.45,613.37 127.75,614.3 127.68,612.82 129.04,611.32 130.61,611.38" fill="#ea8494" opacity="0.9"/>
<polygon points="197.55,738.33 196.97,738.97 195.21,739.35 195.04,737.92 195.55,736.77 197.02,736.44" fill="#f08c96" opacity="0.9"/>
<polygon points="64.95,640.49 64.69,641.72 63.38,641.63 62.75,640.53 63.25,639.99 64.43,639.7" fill="#dc7084" opacity="0.9"/>
<polygon points="150.97,572.37 149.66,575.34 146.43,574.93 146.53,572.77 147.1,571.17 149.67,570.14" fill="#ea8494" opacity="0.9"/>
<polygon points="228.96,710.59 228.41,712.26 227.34,711.41 225.89,710.61 226.69,709.63 228.62,709.86" fill="#e27a8c" opacity="0.9"/>
<polygon points="106.77,596.47 106.16,598.13 105.01,597.6 103.8,596.42 104.57,595.54 106.04,595.61" fill="#dc7084" opacity="0.9"/>
<polygon points="90.01,664.61 88.29,665.85 87.07,666.47 85.17,664.87 86.92,663.15 89.07,663.71" fill="#e27a8c" opacity="0.9"/>
<polygon points="191.15,621.75 191.5,623.34 189.33,623.29 188.12,622.17 189.43,620.63 190.61,620.91" fill="#f08c96" opacity="0.9"/>
<polygon points="73.14,591.67 72,593.12 70.81,592.79 69.15,591.73 70.63,589.64 71.96,589.02" fill="#ea8494" opacity="0.9"/>
<polygon points="101.02,692.79 99.62,693.54 97.5,694.11 96.73,692.96 97.68,691.06 100.82,690.84" fill="#ea8494" opacity="0.9"/>
</g></g>
<clipPath id="cpR"><rect x="316.9" y="536.6" width="256.7" height="205.9"/></clipPath>
<g clip-path="url(#cpR)"><g filter="url(#hblur)"><g filter="url(#grain)">
<rect x="316.9" y="536.6" width="256.7" height="205.9" fill="#e9a9bc"/>
<rect x="316.9" y="536.6" width="256.7" height="205.9" fill="#000" filter="url(#spP)" opacity="0.45"/>
<path d="M380 537H500L505 560L520 578L540 590L560 585L574 575V650L556 655L530 664L505 672L470 690L452 700L440 680L420 660L400 640L385 620L375 595L368 570Z" fill="#000" filter="url(#spW)"/>
<path d="M317 650L345 640L375 660L395 690L420 720L430 743H317Z" fill="#000" filter="url(#spW2)"/>
<g filter="url(#soft)">
<path d="M317 537H350L354 552L345 568L330 575L317 578Z" fill="#b47aa6" opacity="0.7"/>
<path d="M317 595L338 600L350 625L345 660L330 680L317 680Z" fill="#cc92b2" opacity="0.45"/>
<path d="M395 700L420 695L440 705L450 720L455 743H400Z" fill="#c890b0" opacity="0.4"/>
<path d="M349.6 536L356 560L361 590L369 620L388 650L414 680L428 710L438 743L455 743L448 710L438.5 680L413 650L395 620L383 590L378 560L372.3 536Z" fill="#733f86"/>
<path d="M364 560L369 580L374 600L379 615" stroke="#f0d0dc" stroke-width="3" fill="none"/>
<path d="M379 615L388 632L398 646L410 661L421 677L430 697L436 716L440 730L443 743" stroke="#d24a44" stroke-width="4.2" fill="none" stroke-linecap="round"/>
<path d="M432 700L437 718L440 730" stroke="#f4dde2" stroke-width="1.4" fill="none"/>
<path d="M490 536H575V542L566 546L562 558L559 567L540 570L520 571L505 568L495 560L491 548Z" fill="#77448a"/>
<path d="M452 536H476L472 542L462 545L454 542Z" fill="#7a4588"/>
<path d="M575 566L569 574L566 588L569 600L575 606Z" fill="#74408a"/>
<path d="M530 604L540 600L548 604L553 616L556 634L552 648L544 658L536 652L530 640L526 624Z" fill="#7e4b8e"/>
<path d="M466 743L468 723L478 708L490 690L500 676L520 670L539 666L560 661L575 658V743Z" fill="#7a4689"/>
<path d="M564 676L575 673V690L566 688Z" fill="#e6a8bc"/>
<path d="M494 722L506 716L516 713L514 718L502 724Z" fill="#d88ab0"/>
<path d="M506 712L514 708L520 710L512 714Z" fill="#d890b4"/>
<path d="M510 720L516 718L519 726L513 729Z" fill="#f4e0e8"/>
<path d="M540 690L550 684L556 686L548 694Z" fill="#e2a0bc"/>
<path d="M480 700L492 694L498 698L486 706Z" fill="#b27aa6"/>
<path d="M524 690L534 700L530 712L520 704Z" fill="#9a62a0"/>
<path d="M505 545L520 548L530 556L515 560Z" fill="#9e68a2"/>
<path d="M540 548L556 552L552 562L538 558Z" fill="#9a64a0"/>
<path d="M540 649L560 640L575 636V657L556 663L540 666Z" fill="#eab2c4"/>
<path d="M555 730L565 722L574 724V743H552Z" fill="#d07070"/>
</g>
<rect x="316.9" y="536.6" width="256.7" height="205.9" fill="#000" filter="url(#spM)"/>
<circle cx="377.99" cy="648.66" r="1.17" fill="#d85050" opacity="0.8"/>
<circle cx="471.93" cy="665.44" r="0.87" fill="#d85050" opacity="0.8"/>
<circle cx="320.28" cy="709.03" r="1.06" fill="#d85050" opacity="0.8"/>
<circle cx="377.05" cy="741.6" r="1.27" fill="#d85050" opacity="0.8"/>
<circle cx="531.62" cy="634.68" r="1.44" fill="#d85050" opacity="0.8"/>
<circle cx="355.56" cy="667.32" r="1.67" fill="#d85050" opacity="0.8"/>
<circle cx="451.2" cy="689.22" r="1.47" fill="#d85050" opacity="0.8"/>
<circle cx="333.34" cy="692.72" r="1.39" fill="#d85050" opacity="0.8"/>
<circle cx="394.24" cy="542.99" r="1.67" fill="#d85050" opacity="0.8"/>
<circle cx="438.25" cy="684.61" r="1.68" fill="#d85050" opacity="0.8"/>
<circle cx="500.22" cy="726.25" r="1.19" fill="#d85050" opacity="0.8"/>
<circle cx="522.49" cy="628.15" r="1.74" fill="#d85050" opacity="0.8"/>
<circle cx="542.51" cy="556.67" r="0.94" fill="#d85050" opacity="0.8"/>
<circle cx="372.6" cy="735.39" r="1.24" fill="#d85050" opacity="0.8"/>
<circle cx="477.76" cy="598.58" r="1.31" fill="#d85050" opacity="0.8"/>
<circle cx="415.95" cy="608.85" r="1.39" fill="#d85050" opacity="0.8"/>
<circle cx="466.88" cy="722.78" r="1.48" fill="#d85050" opacity="0.8"/>
<circle cx="555.36" cy="712.93" r="1.79" fill="#d85050" opacity="0.8"/>
</g></g></g>
<line x1="518" y1="736.5" x2="568.5" y2="736.5" stroke="#000" stroke-width="3"/>
<line x1="641.9" y1="553.22" x2="641.9" y2="721.2" stroke="#000" stroke-width="2.2" stroke-linecap="butt"/>
<line x1="640.8" y1="720.1" x2="889.7" y2="720.1" stroke="#000" stroke-width="2.2" stroke-linecap="butt"/>
<line x1="636.5" y1="720.1" x2="641.9" y2="720.1" stroke="#000" stroke-width="2.2" stroke-linecap="butt"/>
<text x="635" y="725.4" font-size="15" text-anchor="end" >0</text>
<line x1="636.5" y1="664.84" x2="641.9" y2="664.84" stroke="#000" stroke-width="2.2" stroke-linecap="butt"/>
<text x="635" y="670.14" font-size="15" text-anchor="end" >20</text>
<line x1="636.5" y1="609.58" x2="641.9" y2="609.58" stroke="#000" stroke-width="2.2" stroke-linecap="butt"/>
<text x="635" y="614.88" font-size="15" text-anchor="end" >40</text>
<line x1="636.5" y1="554.32" x2="641.9" y2="554.32" stroke="#000" stroke-width="2.2" stroke-linecap="butt"/>
<text x="635" y="559.62" font-size="15" text-anchor="end" >60</text>
<line x1="713.5" y1="720.1" x2="713.5" y2="724.6" stroke="#000" stroke-width="2.2" stroke-linecap="butt"/>
<line x1="818.5" y1="720.1" x2="818.5" y2="724.6" stroke="#000" stroke-width="2.2" stroke-linecap="butt"/>
<rect x="667" y="675.6" width="92.9" height="44.5" fill="#4258a7" stroke="#000" stroke-width="2" />
<rect x="772.6" y="633.8" width="92.4" height="86.3" fill="#156836" stroke="#000" stroke-width="2" />
<text x="612.9" y="636.7" font-size="14.1" text-anchor="middle" transform="rotate(-90 612.9 636.7)" textLength="125" lengthAdjust="spacingAndGlyphs">Tumor Necrosis (%)</text>
<text x="679.8" y="743.7" font-size="14" textLength="79.4" lengthAdjust="spacingAndGlyphs">NIC/Cpt1a<tspan font-size="8.5" dy="-4.8">+/+</tspan></text>
<text x="780.7" y="743.7" font-size="14" textLength="77" lengthAdjust="spacingAndGlyphs">NIC/Cpt1a<tspan font-size="8.5" dy="-4.8">L/L</tspan></text>
<line x1="713.5" y1="657.3" x2="713.5" y2="691.7" stroke="#000" stroke-width="2.2" stroke-linecap="butt"/>
<line x1="689" y1="657.3" x2="738.3" y2="657.3" stroke="#000" stroke-width="2.4" stroke-linecap="round"/>
<line x1="689" y1="691.7" x2="738.3" y2="691.7" stroke="#000" stroke-width="2.4" stroke-linecap="round"/>
<line x1="818.5" y1="600.6" x2="818.5" y2="666.2" stroke="#000" stroke-width="2.2" stroke-linecap="butt"/>
<line x1="794.2" y1="600.6" x2="843" y2="600.6" stroke="#000" stroke-width="2.4" stroke-linecap="round"/>
<line x1="794.2" y1="666.2" x2="843" y2="666.2" stroke="#000" stroke-width="2.4" stroke-linecap="round"/>
<circle cx="700.4" cy="651.6" r="3.35" fill="#000" />
<circle cx="713.5" cy="648.5" r="3.35" fill="#000" />
<circle cx="713.5" cy="655.8" r="3.35" fill="#000" />
<circle cx="740" cy="657.3" r="3.35" fill="#000" />
<circle cx="687.1" cy="665.8" r="3.35" fill="#000" />
<circle cx="700.4" cy="664.8" r="3.35" fill="#000" />
<circle cx="713.5" cy="664.3" r="3.35" fill="#000" />
<circle cx="726.7" cy="663.6" r="3.35" fill="#000" />
<circle cx="740" cy="670" r="3.35" fill="#000" />
<circle cx="700.4" cy="675" r="3.35" fill="#000" />
<circle cx="726.7" cy="677.1" r="3.35" fill="#000" />
<circle cx="700.4" cy="682.5" r="3.35" fill="#000" />
<circle cx="713.5" cy="680.6" r="3.35" fill="#000" />
<circle cx="726.7" cy="686" r="3.35" fill="#000" />
<circle cx="713.5" cy="688.4" r="3.35" fill="#000" />
<circle cx="706.9" cy="697.5" r="3.35" fill="#000" />
<circle cx="720.1" cy="699" r="3.35" fill="#000" />
<circle cx="713.5" cy="709.4" r="3.35" fill="#000" />
<circle cx="812" cy="586.4" r="3.35" fill="#000" />
<circle cx="825.4" cy="587.8" r="3.35" fill="#000" />
<circle cx="818.5" cy="600.4" r="3.35" fill="#000" />
<circle cx="825.4" cy="609.2" r="3.35" fill="#000" />
<circle cx="812" cy="614.2" r="3.35" fill="#000" />
<circle cx="825.4" cy="623" r="3.35" fill="#000" />
<circle cx="812" cy="625.1" r="3.35" fill="#000" />
<circle cx="818.5" cy="635" r="3.35" fill="#000" />
<circle cx="825.4" cy="643.3" r="3.35" fill="#000" />
<circle cx="812" cy="645.7" r="3.35" fill="#000" />
<circle cx="818.5" cy="656.5" r="3.35" fill="#000" />
<circle cx="818.5" cy="676.3" r="3.35" fill="#000" />
<circle cx="812" cy="683.2" r="3.35" fill="#000" />
<circle cx="825.4" cy="683" r="3.35" fill="#000" />
<path d="M713.5 639V566.6H818.5V577" stroke="#000" stroke-width="2.4" fill="none" stroke-linecap="round"/>
<text x="735.5" y="545.8" font-size="11.8" textLength="53.8" lengthAdjust="spacingAndGlyphs"><tspan font-style="italic">p</tspan> = 0.0003</text>
<path d="M752.2 550.6L752.2 560.4M747.96 553.05L756.44 557.95M747.96 557.95L756.44 553.05" stroke="#000" stroke-width="2.6" fill="none"/>
<path d="M761.7 550.6L761.7 560.4M757.46 553.05L765.94 557.95M757.46 557.95L765.94 553.05" stroke="#000" stroke-width="2.6" fill="none"/>
<path d="M771.2 550.6L771.2 560.4M766.96 553.05L775.44 557.95M766.96 557.95L775.44 553.05" stroke="#000" stroke-width="2.6" fill="none"/>
<path d="M780.7 550.6L780.7 560.4M776.46 553.05L784.94 557.95M776.46 557.95L784.94 553.05" stroke="#000" stroke-width="2.6" fill="none"/>
<line x1="92" y1="807.66" x2="92" y2="1029.7" stroke="#000" stroke-width="2.2" stroke-linecap="butt"/>
<line x1="90.9" y1="1028.6" x2="416.7" y2="1028.6" stroke="#000" stroke-width="2.2" stroke-linecap="butt"/>
<line x1="86.5" y1="1028.6" x2="92" y2="1028.6" stroke="#000" stroke-width="2.2" stroke-linecap="butt"/>
<text x="81" y="1034.6" font-size="17" text-anchor="end" >0</text>
<line x1="86.5" y1="973.64" x2="92" y2="973.64" stroke="#000" stroke-width="2.2" stroke-linecap="butt"/>
<text x="81" y="979.64" font-size="17" text-anchor="end" >20</text>
<line x1="86.5" y1="918.68" x2="92" y2="918.68" stroke="#000" stroke-width="2.2" stroke-linecap="butt"/>
<text x="81" y="924.68" font-size="17" text-anchor="end" >40</text>
<line x1="86.5" y1="863.72" x2="92" y2="863.72" stroke="#000" stroke-width="2.2" stroke-linecap="butt"/>
<text x="81" y="869.72" font-size="17" text-anchor="end" >60</text>
<line x1="86.5" y1="808.76" x2="92" y2="808.76" stroke="#000" stroke-width="2.2" stroke-linecap="butt"/>
<text x="81" y="814.76" font-size="17" text-anchor="end" >80</text>
<line x1="173.4" y1="1028.6" x2="173.4" y2="1034.1" stroke="#000" stroke-width="2.2" stroke-linecap="butt"/>
<line x1="335.5" y1="1028.6" x2="335.5" y2="1034.1" stroke="#000" stroke-width="2.2" stroke-linecap="butt"/>
<rect x="121.3" y="963.4" width="104.6" height="65.2" fill="#3d58a7" stroke="#000" stroke-width="2" />
<rect x="283.3" y="1016.4" width="104.5" height="12.2" fill="#10773d" stroke="#000" stroke-width="2" />
<text font-size="16.6" text-anchor="middle" transform="rotate(-90 31 927.7)"><tspan x="31" y="927.7" textLength="146" lengthAdjust="spacingAndGlyphs">Average Number of</tspan></text>
<text font-size="16.6" text-anchor="middle" transform="rotate(-90 53.5 923.5)"><tspan x="53.5" y="923.5" textLength="80" lengthAdjust="spacingAndGlyphs">Metastasis</tspan></text>
<text x="120.6" y="1054.5" font-size="16.2" textLength="90.5" lengthAdjust="spacingAndGlyphs">NIC/Cpt1a<tspan font-size="10" dy="-5.6">+/+</tspan></text>
<text x="285.3" y="1054.5" font-size="16.2" textLength="90.5" lengthAdjust="spacingAndGlyphs">NIC/Cpt1a<tspan font-size="10" dy="-5.6">L/L</tspan></text>
<line x1="173.4" y1="911.2" x2="173.4" y2="1012.3" stroke="#000" stroke-width="2.2" stroke-linecap="butt"/>
<line x1="145.4" y1="911.2" x2="201.2" y2="911.2" stroke="#000" stroke-width="2.6" stroke-linecap="round"/>
<line x1="145.4" y1="1012.3" x2="201.2" y2="1012.3" stroke="#000" stroke-width="2.6" stroke-linecap="round"/>
<line x1="335.4" y1="1002" x2="335.4" y2="1027.3" stroke="#000" stroke-width="2.2" stroke-linecap="butt"/>
<line x1="307.5" y1="1002" x2="361.9" y2="1002" stroke="#000" stroke-width="2.6" stroke-linecap="round"/>
<line x1="307.5" y1="1027.3" x2="361.9" y2="1027.3" stroke="#000" stroke-width="2.6" stroke-linecap="round"/>
<circle cx="173.2" cy="830.9" r="4.4" fill="#000" />
<circle cx="164.6" cy="880.3" r="4.4" fill="#000" />
<circle cx="182" cy="877.5" r="4.4" fill="#000" />
<circle cx="147.3" cy="940.6" r="4.4" fill="#000" />
<circle cx="147.3" cy="957.2" r="4.4" fill="#000" />
<circle cx="164.4" cy="965.4" r="4.4" fill="#000" />
<circle cx="182" cy="935.4" r="4.4" fill="#000" />
<circle cx="182" cy="949.1" r="4.4" fill="#000" />
<circle cx="182" cy="965.4" r="4.4" fill="#000" />
<circle cx="182" cy="976.6" r="4.4" fill="#000" />
<circle cx="199.4" cy="929.3" r="4.4" fill="#000" />
<circle cx="199.4" cy="943.6" r="4.4" fill="#000" />
<circle cx="199.4" cy="959.7" r="4.4" fill="#000" />
<circle cx="147.3" cy="979.3" r="4.4" fill="#000" />
<circle cx="147.3" cy="990.5" r="4.4" fill="#000" />
<circle cx="164.4" cy="984.6" r="4.4" fill="#000" />
<circle cx="199.4" cy="987.5" r="4.4" fill="#000" />
<circle cx="147.3" cy="1014.7" r="4.4" fill="#000" />
<circle cx="147.3" cy="1025.8" r="4.4" fill="#000" />
<circle cx="164.4" cy="1017.6" r="4.4" fill="#000" />
<circle cx="182" cy="1023.1" r="4.4" fill="#000" />
<circle cx="199.4" cy="1020.5" r="4.4" fill="#000" />
<circle cx="309.8" cy="995.6" r="4.4" fill="#000" />
<circle cx="344.4" cy="993.1" r="4.4" fill="#000" />
<circle cx="361.6" cy="1004" r="4.4" fill="#000" />
<circle cx="309.8" cy="1009.1" r="4.4" fill="#000" />
<circle cx="326.9" cy="1011.9" r="4.4" fill="#000" />
<circle cx="344.4" cy="1009.4" r="4.4" fill="#000" />
<circle cx="309.8" cy="1020.6" r="4.4" fill="#000" />
<circle cx="344.4" cy="1022.5" r="4.4" fill="#000" />
<circle cx="379" cy="1022.9" r="4.4" fill="#000" />
<circle cx="292.3" cy="1028.8" r="4.4" fill="#000" />
<circle cx="326.9" cy="1026" r="4.4" fill="#000" />
<circle cx="361.6" cy="1028.8" r="4.4" fill="#000" />
<path d="M173.3 818.6V805H335.4V980" stroke="#000" stroke-width="2.6" fill="none" stroke-linecap="round"/>
<text x="224.6" y="778.8" font-size="11.8" textLength="53.6" lengthAdjust="spacingAndGlyphs"><tspan font-style="italic">p</tspan> = 0.0012</text>
<path d="M248 782.8L248 795.2M242.63 785.9L253.37 792.1M242.63 792.1L253.37 785.9" stroke="#000" stroke-width="3.2" fill="none"/>
<path d="M261.2 782.8L261.2 795.2M255.83 785.9L266.57 792.1M255.83 792.1L266.57 785.9" stroke="#000" stroke-width="3.2" fill="none"/>
<line x1="695.8" y1="794.4" x2="695.8" y2="1029.7" stroke="#000" stroke-width="2.2" stroke-linecap="butt"/>
<line x1="694.7" y1="1028.6" x2="1038.7" y2="1028.6" stroke="#000" stroke-width="2.2" stroke-linecap="butt"/>
<line x1="690.1" y1="1028.6" x2="695.8" y2="1028.6" stroke="#000" stroke-width="2.2" stroke-linecap="butt"/>
<text x="683.4" y="1036.1" font-size="16.6" text-anchor="end" >0</text>
<line x1="690.1" y1="981.98" x2="695.8" y2="981.98" stroke="#000" stroke-width="2.2" stroke-linecap="butt"/>
<text x="683.4" y="989.48" font-size="16.6" text-anchor="end" >200000</text>
<line x1="690.1" y1="935.36" x2="695.8" y2="935.36" stroke="#000" stroke-width="2.2" stroke-linecap="butt"/>
<text x="683.4" y="942.86" font-size="16.6" text-anchor="end" >400000</text>
<line x1="690.1" y1="888.74" x2="695.8" y2="888.74" stroke="#000" stroke-width="2.2" stroke-linecap="butt"/>
<text x="683.4" y="896.24" font-size="16.6" text-anchor="end" >600000</text>
<line x1="690.1" y1="842.12" x2="695.8" y2="842.12" stroke="#000" stroke-width="2.2" stroke-linecap="butt"/>
<text x="683.4" y="849.62" font-size="16.6" text-anchor="end" >800000</text>
<line x1="690.1" y1="795.5" x2="695.8" y2="795.5" stroke="#000" stroke-width="2.2" stroke-linecap="butt"/>
<text x="683.4" y="803" font-size="16.6" text-anchor="end" >1000000</text>
<line x1="781.5" y1="1028.6" x2="781.5" y2="1033.6" stroke="#000" stroke-width="2.2" stroke-linecap="butt"/>
<line x1="953.5" y1="1028.6" x2="953.5" y2="1033.6" stroke="#000" stroke-width="2.2" stroke-linecap="butt"/>
<text font-size="16.4" text-anchor="middle" transform="rotate(-90 591 912)"><tspan x="591" y="912" textLength="121" lengthAdjust="spacingAndGlyphs">Average Area of</tspan></text>
<text font-size="16.4" text-anchor="middle" transform="rotate(-90 614 911.7)"><tspan x="614" y="911.7" textLength="128.3" lengthAdjust="spacingAndGlyphs">Metastasis (um<tspan font-size="10.5" dy="-6.5">2</tspan><tspan dy="6.5">)</tspan></tspan></text>
<text x="738.1" y="1055.9" font-size="16">NIC/Cpt1a<tspan font-size="10" dy="-5.6">+/+</tspan></text>
<text x="905.3" y="1055.9" font-size="16">NIC/Cpt1a<tspan font-size="10" dy="-5.6">L/L</tspan></text>
<path d="M781.5 825.3V810.8H953.6V973" stroke="#000" stroke-width="2.5" fill="none" stroke-linecap="round"/>
<text x="836.6" y="778.5" font-size="11.6" textLength="54.6" lengthAdjust="spacingAndGlyphs"><tspan font-style="italic">p</tspan> = 0.0032</text>
<path d="M860.2 789.5L860.2 802.1M854.74 792.65L865.66 798.95M854.74 798.95L865.66 792.65" stroke="#000" stroke-width="3.2" fill="none"/>
<path d="M874.6 789.5L874.6 802.1M869.14 792.65L880.06 798.95M869.14 798.95L880.06 792.65" stroke="#000" stroke-width="3.2" fill="none"/>
<circle cx="781.8" cy="839" r="4.6" fill="#000" />
<circle cx="781.8" cy="854.5" r="4.6" fill="#000" />
<circle cx="781.8" cy="866.2" r="4.6" fill="#000" />
<circle cx="781.8" cy="872.3" r="4.6" fill="#000" />
<circle cx="781.8" cy="895.3" r="4.6" fill="#000" />
<circle cx="781.8" cy="898.1" r="4.6" fill="#000" />
<circle cx="781.8" cy="906.6" r="4.6" fill="#000" />
<circle cx="781.8" cy="912.8" r="4.6" fill="#000" />
<circle cx="781.8" cy="923" r="4.6" fill="#000" />
<circle cx="781.8" cy="936.6" r="4.6" fill="#000" />
<circle cx="781.8" cy="941.4" r="4.6" fill="#000" />
<circle cx="781.8" cy="959.6" r="4.6" fill="#000" />
<circle cx="781.8" cy="969.4" r="4.6" fill="#000" />
<circle cx="781.8" cy="972.9" r="4.6" fill="#000" />
<circle cx="781.8" cy="976.4" r="4.6" fill="#000" />
<circle cx="781.8" cy="979.9" r="4.6" fill="#000" />
<circle cx="781.8" cy="983.4" r="4.6" fill="#000" />
<circle cx="781.8" cy="986.9" r="4.6" fill="#000" />
<circle cx="781.8" cy="990.4" r="4.6" fill="#000" />
<circle cx="781.8" cy="993.9" r="4.6" fill="#000" />
<circle cx="783.29" cy="1007.87" r="4.6" fill="#000" />
<circle cx="785.44" cy="1011.08" r="4.6" fill="#000" />
<circle cx="784.75" cy="1010.76" r="4.6" fill="#000" />
<circle cx="775.86" cy="1003.45" r="4.6" fill="#000" />
<circle cx="787.29" cy="1006.38" r="4.6" fill="#000" />
<circle cx="786.76" cy="997.81" r="4.6" fill="#000" />
<circle cx="781.36" cy="999.95" r="4.6" fill="#000" />
<circle cx="782.3" cy="1005.18" r="4.6" fill="#000" />
<circle cx="775.66" cy="999.47" r="4.6" fill="#000" />
<circle cx="778.99" cy="1010.66" r="4.6" fill="#000" />
<circle cx="787.08" cy="1006.23" r="4.6" fill="#000" />
<circle cx="787.74" cy="1005.94" r="4.6" fill="#000" />
<circle cx="783.97" cy="1005.77" r="4.6" fill="#000" />
<circle cx="771.04" cy="1016.2" r="4.6" fill="#000" />
<circle cx="775.4" cy="1007.02" r="4.6" fill="#000" />
<circle cx="791.63" cy="1016.21" r="4.6" fill="#000" />
<circle cx="777.08" cy="1017.46" r="4.6" fill="#000" />
<circle cx="782.32" cy="1013.49" r="4.6" fill="#000" />
<circle cx="775.3" cy="1017.17" r="4.6" fill="#000" />
<circle cx="785.5" cy="1017.53" r="4.6" fill="#000" />
<circle cx="789.77" cy="1008.18" r="4.6" fill="#000" />
<circle cx="778.58" cy="1006.32" r="4.6" fill="#000" />
<circle cx="744.65" cy="1020.49" r="4.6" fill="#000" />
<circle cx="760.84" cy="1024.52" r="4.6" fill="#000" />
<circle cx="729.85" cy="1025.08" r="4.6" fill="#000" />
<circle cx="764.64" cy="1022.32" r="4.6" fill="#000" />
<circle cx="814.63" cy="1023.61" r="4.6" fill="#000" />
<circle cx="762.34" cy="1023.61" r="4.6" fill="#000" />
<circle cx="802.79" cy="1020.43" r="4.6" fill="#000" />
<circle cx="830.91" cy="1020.17" r="4.6" fill="#000" />
<circle cx="807.48" cy="1026.34" r="4.6" fill="#000" />
<circle cx="731.38" cy="1025.91" r="4.6" fill="#000" />
<circle cx="767.58" cy="1024.34" r="4.6" fill="#000" />
<circle cx="730.44" cy="1020.35" r="4.6" fill="#000" />
<circle cx="748.32" cy="1027.16" r="4.6" fill="#000" />
<circle cx="749.94" cy="1025.67" r="4.6" fill="#000" />
<circle cx="826.18" cy="1027.07" r="4.6" fill="#000" />
<circle cx="765.32" cy="1022.66" r="4.6" fill="#000" />
<circle cx="784.07" cy="1025.82" r="4.6" fill="#000" />
<circle cx="740.74" cy="1025.61" r="4.6" fill="#000" />
<circle cx="812.41" cy="1026.45" r="4.6" fill="#000" />
<circle cx="733.31" cy="1027.09" r="4.6" fill="#000" />
<circle cx="738.98" cy="1022.56" r="4.6" fill="#000" />
<circle cx="793.03" cy="1026.89" r="4.6" fill="#000" />
<circle cx="764.86" cy="1026.93" r="4.6" fill="#000" />
<circle cx="786.19" cy="1022.34" r="4.6" fill="#000" />
<circle cx="762.45" cy="1021.33" r="4.6" fill="#000" />
<circle cx="737.63" cy="1021.12" r="4.6" fill="#000" />
<circle cx="801.17" cy="1027.48" r="4.6" fill="#000" />
<circle cx="746.3" cy="1020.36" r="4.6" fill="#000" />
<circle cx="832.12" cy="1024" r="4.6" fill="#000" />
<circle cx="771.71" cy="1021.78" r="4.6" fill="#000" />
<circle cx="791.27" cy="1026.2" r="4.6" fill="#000" />
<circle cx="776.89" cy="1023.16" r="4.6" fill="#000" />
<circle cx="735.29" cy="1026.87" r="4.6" fill="#000" />
<circle cx="732.9" cy="1023.7" r="4.6" fill="#000" />
<circle cx="816.7" cy="1020.98" r="4.6" fill="#000" />
<circle cx="805.59" cy="1027.12" r="4.6" fill="#000" />
<circle cx="795.06" cy="1025.91" r="4.6" fill="#000" />
<circle cx="740.59" cy="1023.26" r="4.6" fill="#000" />
<circle cx="745.02" cy="1026.34" r="4.6" fill="#000" />
<circle cx="760.16" cy="1023.4" r="4.6" fill="#000" />
<circle cx="833.43" cy="1026.39" r="4.6" fill="#000" />
<circle cx="831" cy="1023.4" r="4.6" fill="#000" />
<circle cx="780.27" cy="1025.47" r="4.6" fill="#000" />
<circle cx="779.32" cy="1022.18" r="4.6" fill="#000" />
<circle cx="771.49" cy="1021.1" r="4.6" fill="#000" />
<circle cx="768.71" cy="1027.41" r="4.6" fill="#000" />
<circle cx="829.32" cy="1024.7" r="4.6" fill="#000" />
<circle cx="781.43" cy="1022.54" r="4.6" fill="#000" />
<circle cx="738.77" cy="1022.04" r="4.6" fill="#000" />
<circle cx="810.83" cy="1026.51" r="4.6" fill="#000" />
<circle cx="767.08" cy="1025.9" r="4.6" fill="#000" />
<circle cx="810.09" cy="1025.21" r="4.6" fill="#000" />
<circle cx="798.56" cy="1025.7" r="4.6" fill="#000" />
<circle cx="767.3" cy="1025.28" r="4.6" fill="#000" />
<circle cx="758.71" cy="1023.64" r="4.6" fill="#000" />
<circle cx="809.55" cy="1025.18" r="4.6" fill="#000" />
<circle cx="760.06" cy="1027.09" r="4.6" fill="#000" />
<circle cx="797.07" cy="1024.35" r="4.6" fill="#000" />
<circle cx="730.7" cy="1024.1" r="4.6" fill="#000" />
<circle cx="755.57" cy="1025.04" r="4.6" fill="#000" />
<circle cx="777.65" cy="1026.13" r="4.6" fill="#000" />
<circle cx="796.83" cy="1025.98" r="4.6" fill="#000" />
<circle cx="765.68" cy="1024.83" r="4.6" fill="#000" />
<circle cx="806.23" cy="1026.21" r="4.6" fill="#000" />
<circle cx="765.9" cy="1026.32" r="4.6" fill="#000" />
<circle cx="819.97" cy="1025.16" r="4.6" fill="#000" />
<circle cx="831.02" cy="1027.17" r="4.6" fill="#000" />
<circle cx="783.39" cy="1023.97" r="4.6" fill="#000" />
<circle cx="746.78" cy="1026.27" r="4.6" fill="#000" />
<circle cx="826.99" cy="1023.58" r="4.6" fill="#000" />
<circle cx="801.41" cy="1025.4" r="4.6" fill="#000" />
<circle cx="805.46" cy="1021.29" r="4.6" fill="#000" />
<circle cx="810.66" cy="1024.36" r="4.6" fill="#000" />
<circle cx="798.72" cy="1023.16" r="4.6" fill="#000" />
<circle cx="794.37" cy="1025.81" r="4.6" fill="#000" />
<circle cx="795.73" cy="1025.4" r="4.6" fill="#000" />
<circle cx="732.37" cy="1021.2" r="4.6" fill="#000" />
<circle cx="775.37" cy="1024.88" r="4.6" fill="#000" />
<circle cx="752.28" cy="1025.14" r="4.6" fill="#000" />
<circle cx="795.11" cy="1020.31" r="4.6" fill="#000" />
<circle cx="778.54" cy="1021.7" r="4.6" fill="#000" />
<circle cx="735.13" cy="1021" r="4.6" fill="#000" />
<circle cx="762.5" cy="1021.36" r="4.6" fill="#000" />
<circle cx="749.61" cy="1020.27" r="4.6" fill="#000" />
<circle cx="777.89" cy="1022.85" r="4.6" fill="#000" />
<circle cx="793.13" cy="1024.43" r="4.6" fill="#000" />
<circle cx="754.24" cy="1026.77" r="4.6" fill="#000" />
<circle cx="729.57" cy="1023.04" r="4.6" fill="#000" />
<circle cx="758.47" cy="1023.08" r="4.6" fill="#000" />
<circle cx="741.47" cy="1026.24" r="4.6" fill="#000" />
<circle cx="768.38" cy="1020.27" r="4.6" fill="#000" />
<circle cx="793.31" cy="1020.71" r="4.6" fill="#000" />
<circle cx="786.2" cy="1022.55" r="4.6" fill="#000" />
<circle cx="789.91" cy="1027.19" r="4.6" fill="#000" />
<circle cx="814.63" cy="1023.14" r="4.6" fill="#000" />
<circle cx="814.05" cy="1024.82" r="4.6" fill="#000" />
<circle cx="767.92" cy="1021.07" r="4.6" fill="#000" />
<circle cx="791.48" cy="1024.23" r="4.6" fill="#000" />
<circle cx="829.05" cy="1027.26" r="4.6" fill="#000" />
<circle cx="792.8" cy="1022.63" r="4.6" fill="#000" />
<circle cx="822.42" cy="1020.01" r="4.6" fill="#000" />
<circle cx="740.72" cy="1024.24" r="4.6" fill="#000" />
<circle cx="793.48" cy="1021.06" r="4.6" fill="#000" />
<circle cx="794.96" cy="1026.68" r="4.6" fill="#000" />
<circle cx="768.59" cy="1023.24" r="4.6" fill="#000" />
<circle cx="753.04" cy="1022.19" r="4.6" fill="#000" />
<circle cx="830.64" cy="1022.85" r="4.6" fill="#000" />
<circle cx="829.46" cy="1026.85" r="4.6" fill="#000" />
<circle cx="791.46" cy="1021.95" r="4.6" fill="#000" />
<circle cx="831.52" cy="1023.72" r="4.6" fill="#000" />
<circle cx="772.71" cy="1022.39" r="4.6" fill="#000" />
<circle cx="831.86" cy="1023.69" r="4.6" fill="#000" />
<circle cx="759.29" cy="1023.58" r="4.6" fill="#000" />
<circle cx="742.18" cy="1024.66" r="4.6" fill="#000" />
<circle cx="775.62" cy="1022.2" r="4.6" fill="#000" />
<circle cx="810.8" cy="1026.2" r="4.6" fill="#000" />
<circle cx="730.87" cy="1023.99" r="4.6" fill="#000" />
<circle cx="757.97" cy="1027.01" r="4.6" fill="#000" />
<circle cx="810.82" cy="1021.84" r="4.6" fill="#000" />
<circle cx="757.34" cy="1021.16" r="4.6" fill="#000" />
<circle cx="832.34" cy="1022.2" r="4.6" fill="#000" />
<circle cx="792.74" cy="1023.56" r="4.6" fill="#000" />
<circle cx="796.57" cy="1024.53" r="4.6" fill="#000" />
<circle cx="806.82" cy="1020.89" r="4.6" fill="#000" />
<circle cx="808.58" cy="1022.26" r="4.6" fill="#000" />
<circle cx="784.98" cy="1022.52" r="4.6" fill="#000" />
<circle cx="760.37" cy="1023.97" r="4.6" fill="#000" />
<circle cx="777.79" cy="1022.71" r="4.6" fill="#000" />
<circle cx="806.98" cy="1024.43" r="4.6" fill="#000" />
<circle cx="733.29" cy="1021.89" r="4.6" fill="#000" />
<circle cx="776.88" cy="1026.87" r="4.6" fill="#000" />
<circle cx="821.85" cy="1024.09" r="4.6" fill="#000" />
<circle cx="731.01" cy="1025.84" r="4.6" fill="#000" />
<circle cx="773.98" cy="1024.32" r="4.6" fill="#000" />
<circle cx="803.15" cy="1024.74" r="4.6" fill="#000" />
<circle cx="779.62" cy="1026.84" r="4.6" fill="#000" />
<circle cx="769.59" cy="1022.94" r="4.6" fill="#000" />
<circle cx="818.1" cy="1021.47" r="4.6" fill="#000" />
<circle cx="760.33" cy="1026.23" r="4.6" fill="#000" />
<circle cx="736.37" cy="1026.27" r="4.6" fill="#000" />
<circle cx="801.74" cy="1023.25" r="4.6" fill="#000" />
<circle cx="759.28" cy="1025.86" r="4.6" fill="#000" />
<circle cx="824.21" cy="1021.07" r="4.6" fill="#000" />
<circle cx="779.25" cy="1024.12" r="4.6" fill="#000" />
<circle cx="781.26" cy="1022.48" r="4.6" fill="#000" />
<circle cx="745.47" cy="1024.39" r="4.6" fill="#000" />
<circle cx="813.93" cy="1020.51" r="4.6" fill="#000" />
<circle cx="753.42" cy="1026.15" r="4.6" fill="#000" />
<circle cx="811.84" cy="1024.98" r="4.6" fill="#000" />
<circle cx="732.16" cy="1025.42" r="4.6" fill="#000" />
<circle cx="831.28" cy="1027.49" r="4.6" fill="#000" />
<circle cx="802.43" cy="1020.37" r="4.6" fill="#000" />
<circle cx="817.07" cy="1021.64" r="4.6" fill="#000" />
<circle cx="796.66" cy="1027.14" r="4.6" fill="#000" />
<circle cx="803.59" cy="1021.01" r="4.6" fill="#000" />
<circle cx="759.92" cy="1026.88" r="4.6" fill="#000" />
<circle cx="745.07" cy="1024.58" r="4.6" fill="#000" />
<circle cx="772.55" cy="1021.21" r="4.6" fill="#000" />
<circle cx="794.23" cy="1020.33" r="4.6" fill="#000" />
<circle cx="740.75" cy="1022.84" r="4.6" fill="#000" />
<circle cx="736.99" cy="1020.43" r="4.6" fill="#000" />
<circle cx="789.33" cy="1025.57" r="4.6" fill="#000" />
<circle cx="820.86" cy="1021.01" r="4.6" fill="#000" />
<circle cx="774.39" cy="1022.36" r="4.6" fill="#000" />
<circle cx="791.92" cy="1023.67" r="4.6" fill="#000" />
<circle cx="827.11" cy="1022.81" r="4.6" fill="#000" />
<circle cx="735.3" cy="1025.23" r="4.6" fill="#000" />
<circle cx="745.22" cy="1024.74" r="4.6" fill="#000" />
<circle cx="782.11" cy="1026.83" r="4.6" fill="#000" />
<circle cx="787.21" cy="1024.66" r="4.6" fill="#000" />
<circle cx="953.3" cy="986" r="4.6" fill="#000" />
<circle cx="953.3" cy="1014.7" r="4.6" fill="#000" />
<circle cx="903.3" cy="1019" r="4.6" fill="#000" />
<circle cx="928.5" cy="1019.5" r="4.6" fill="#000" />
<circle cx="934" cy="1020.5" r="4.6" fill="#000" />
<circle cx="999" cy="1022.5" r="4.6" fill="#000" />
<circle cx="928.98" cy="1026.48" r="4.6" fill="#000" />
<circle cx="928.05" cy="1027.38" r="4.6" fill="#000" />
<circle cx="954.99" cy="1024.6" r="4.6" fill="#000" />
<circle cx="926.03" cy="1025.67" r="4.6" fill="#000" />
<circle cx="977.52" cy="1024.81" r="4.6" fill="#000" />
<circle cx="975.11" cy="1026.95" r="4.6" fill="#000" />
<circle cx="910.74" cy="1027.01" r="4.6" fill="#000" />
<circle cx="911.35" cy="1024.56" r="4.6" fill="#000" />
<circle cx="962.88" cy="1025.07" r="4.6" fill="#000" />
<circle cx="991.88" cy="1026.16" r="4.6" fill="#000" />
<circle cx="935.14" cy="1027.58" r="4.6" fill="#000" />
<circle cx="905.02" cy="1027.26" r="4.6" fill="#000" />
<circle cx="907.5" cy="1024.68" r="4.6" fill="#000" />
<circle cx="999.58" cy="1027.07" r="4.6" fill="#000" />
<circle cx="924.87" cy="1024.52" r="4.6" fill="#000" />
<circle cx="1001.7" cy="1026.99" r="4.6" fill="#000" />
<circle cx="986.11" cy="1024.63" r="4.6" fill="#000" />
<circle cx="966.04" cy="1025.59" r="4.6" fill="#000" />
<circle cx="926.09" cy="1025.5" r="4.6" fill="#000" />
<circle cx="964.91" cy="1025.57" r="4.6" fill="#000" />
<circle cx="941.54" cy="1024.61" r="4.6" fill="#000" />
<circle cx="987.19" cy="1026.92" r="4.6" fill="#000" />
<circle cx="984.46" cy="1025.95" r="4.6" fill="#000" />
<circle cx="989.29" cy="1026.33" r="4.6" fill="#000" />
<circle cx="962.74" cy="1026.58" r="4.6" fill="#000" />
<circle cx="977.87" cy="1025.78" r="4.6" fill="#000" />
<circle cx="911.94" cy="1024.15" r="4.6" fill="#000" />
<circle cx="922.75" cy="1024.18" r="4.6" fill="#000" />
<circle cx="993.15" cy="1026.16" r="4.6" fill="#000" />
<circle cx="979.94" cy="1024" r="4.6" fill="#000" />
<circle cx="950.19" cy="1028" r="4.6" fill="#000" />
<circle cx="965.5" cy="1025.93" r="4.6" fill="#000" />
<circle cx="949.72" cy="1024.45" r="4.6" fill="#000" />
<circle cx="917.85" cy="1024.72" r="4.6" fill="#000" />
<circle cx="940.4" cy="1025.74" r="4.6" fill="#000" />
<circle cx="992.24" cy="1024.68" r="4.6" fill="#000" />
<circle cx="928.04" cy="1025.25" r="4.6" fill="#000" />
<circle cx="918.56" cy="1025.29" r="4.6" fill="#000" />
<circle cx="926.1" cy="1026.17" r="4.6" fill="#000" />
<circle cx="905.29" cy="1028.16" r="4.6" fill="#000" />
<circle cx="939.82" cy="1028.22" r="4.6" fill="#000" />
<circle cx="972.49" cy="1027.03" r="4.6" fill="#000" />
<circle cx="950.35" cy="1028.25" r="4.6" fill="#000" />
<circle cx="914.09" cy="1027.01" r="4.6" fill="#000" />
<circle cx="931.84" cy="1027.04" r="4.6" fill="#000" />
<circle cx="976.75" cy="1024.73" r="4.6" fill="#000" />
<circle cx="922.6" cy="1024.11" r="4.6" fill="#000" />
<circle cx="925.62" cy="1024.35" r="4.6" fill="#000" />
<circle cx="943.11" cy="1028.38" r="4.6" fill="#000" />
<circle cx="939.34" cy="1025.4" r="4.6" fill="#000" />
<circle cx="949.97" cy="1025.27" r="4.6" fill="#000" />
<circle cx="977.07" cy="1027.23" r="4.6" fill="#000" />
<circle cx="918.74" cy="1025.08" r="4.6" fill="#000" />
<circle cx="970.9" cy="1028.23" r="4.6" fill="#000" />
<circle cx="968.2" cy="1025.94" r="4.6" fill="#000" />
<line x1="752.5" y1="991.5" x2="811.1" y2="991.5" stroke="#000" stroke-width="2.2" stroke-linecap="round"/>
<line x1="928" y1="1019.3" x2="982.7" y2="1019.3" stroke="#000" stroke-width="2.2" stroke-linecap="round"/>
</svg></body></html>
